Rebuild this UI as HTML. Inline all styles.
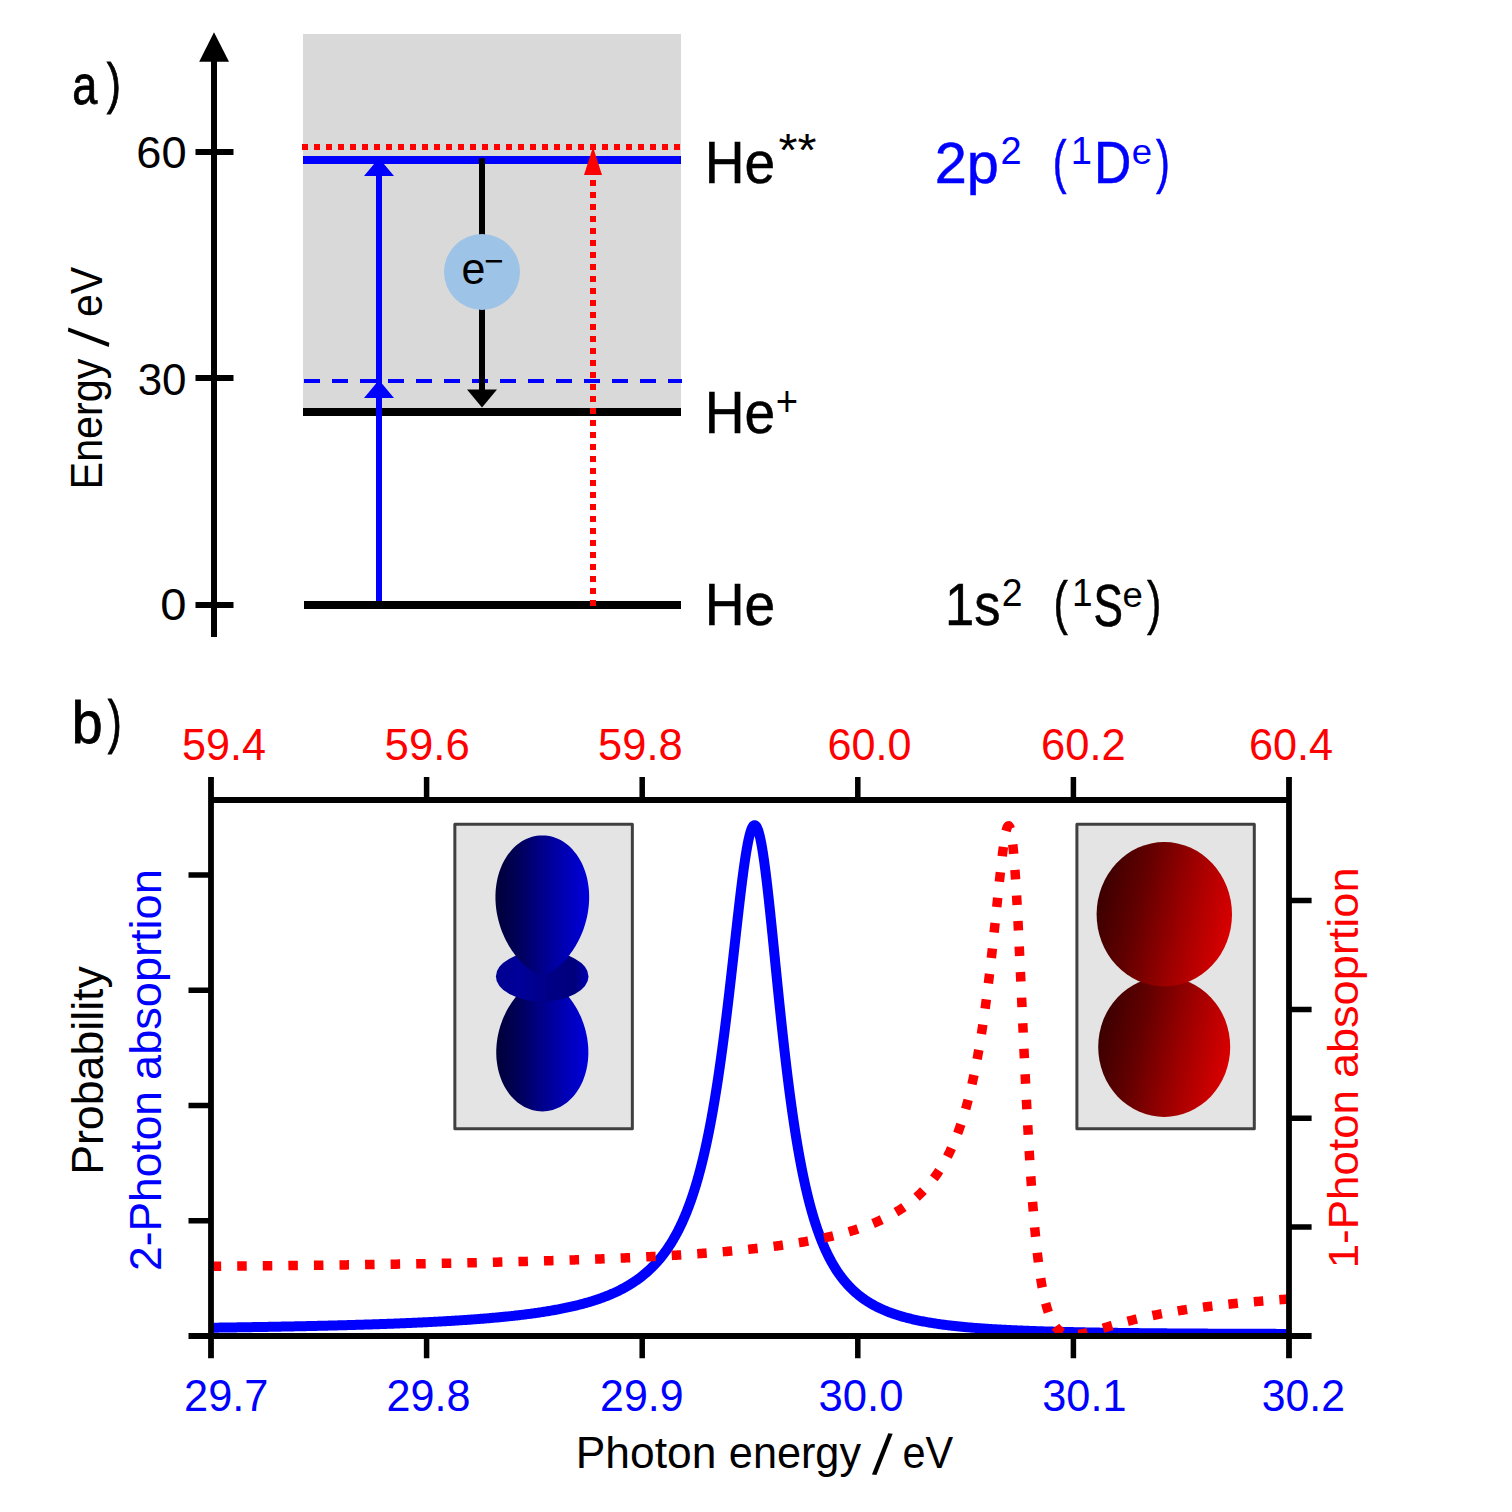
<!DOCTYPE html>
<html lang="en"><head><meta charset="utf-8"><title>He two-photon excitation scheme</title>
<style>html,body{margin:0;padding:0;background:#fff}svg{display:block}</style></head>
<body>
<svg width="1512" height="1512" viewBox="0 0 1512 1512" font-family="'Liberation Sans', 'DejaVu Sans', sans-serif">
<defs>
<linearGradient id="gb" x1="0" y1="0" x2="1" y2="0"><stop offset="0" stop-color="#000038"/><stop offset="0.25" stop-color="#00005a"/><stop offset="0.5" stop-color="#00008a"/><stop offset="0.75" stop-color="#0000b6"/><stop offset="1" stop-color="#0000dc"/></linearGradient>
<linearGradient id="gt" x1="0" y1="0" x2="1" y2="0"><stop offset="0" stop-color="#000090"/><stop offset="0.25" stop-color="#00009a"/><stop offset="0.6" stop-color="#000084"/><stop offset="0.85" stop-color="#00007c"/><stop offset="1" stop-color="#0000b4"/></linearGradient>
<linearGradient id="gr" x1="0" y1="0.38" x2="1" y2="0.62"><stop offset="0" stop-color="#3a0000"/><stop offset="0.3" stop-color="#620000"/><stop offset="0.6" stop-color="#980000"/><stop offset="1" stop-color="#dc0000"/></linearGradient>
<clipPath id="plot"><rect x="211" y="800" width="1078" height="536"/></clipPath>
</defs>
<rect width="1512" height="1512" fill="#ffffff"/>
<rect x="303" y="34" width="378" height="378" fill="#d9d9d9"/>
<g stroke="#000" stroke-width="6" fill="none">
<path d="M214,58 V637"/><path d="M195.5,152 H233.5 M195.5,378 H233.5 M195.5,605 H233.5"/>
</g>
<path d="M214,32.3 L199.2,61.7 H229 Z" fill="#000"/>
<path d="M304,605 H681 M303,412 H681" stroke="#000" stroke-width="8" fill="none"/>
<path d="M303,160 H681" stroke="#0000ff" stroke-width="8" fill="none"/>
<path d="M302,147 H681" stroke="#ff0000" stroke-width="6" stroke-dasharray="6 6" fill="none"/>
<path d="M593,180 V606" stroke="#ff0000" stroke-width="6" stroke-dasharray="6 6" fill="none"/>
<path d="M593,147 L584,175 H602 Z" fill="#ff0000"/>
<path d="M304,381 H682" stroke="#0000ff" stroke-width="4" stroke-dasharray="16 12" fill="none"/>
<path d="M482,158.3 V392" stroke="#000" stroke-width="6" fill="none"/>
<path d="M467,389.5 H497 L482,407.5 Z" fill="#000"/>
<path d="M379,601 V170" stroke="#0000ff" stroke-width="6" fill="none"/>
<path d="M379,158 L364,176 H394 Z M379,380 L364,398 H394 Z" fill="#0000ff"/>
<circle cx="482" cy="272" r="38" fill="#9dc3e6"/>
<g clip-path="url(#plot)" fill="none" stroke-linejoin="round">
<path d="M211.00,1327.73 L212.20,1327.71 L213.40,1327.70 L214.60,1327.68 L215.80,1327.67 L217.00,1327.65 L218.20,1327.63 L219.40,1327.62 L220.60,1327.60 L221.80,1327.58 L223.00,1327.57 L224.20,1327.55 L225.40,1327.53 L226.60,1327.52 L227.80,1327.50 L229.00,1327.48 L230.20,1327.47 L231.40,1327.45 L232.60,1327.43 L233.80,1327.41 L235.00,1327.40 L236.20,1327.38 L237.40,1327.36 L238.60,1327.34 L239.80,1327.32 L241.00,1327.31 L242.20,1327.29 L243.40,1327.27 L244.60,1327.25 L245.80,1327.23 L247.00,1327.21 L248.20,1327.19 L249.40,1327.17 L250.60,1327.16 L251.80,1327.14 L253.00,1327.12 L254.20,1327.10 L255.40,1327.08 L256.60,1327.06 L257.79,1327.04 L258.99,1327.02 L260.19,1327.00 L261.39,1326.98 L262.59,1326.96 L263.79,1326.94 L264.99,1326.92 L266.19,1326.90 L267.39,1326.88 L268.59,1326.85 L269.79,1326.83 L270.99,1326.81 L272.19,1326.79 L273.39,1326.77 L274.59,1326.75 L275.79,1326.73 L276.99,1326.70 L278.19,1326.68 L279.39,1326.66 L280.59,1326.64 L281.79,1326.61 L282.99,1326.59 L284.19,1326.57 L285.39,1326.55 L286.59,1326.52 L287.79,1326.50 L288.99,1326.48 L290.19,1326.45 L291.39,1326.43 L292.59,1326.40 L293.79,1326.38 L294.99,1326.36 L296.19,1326.33 L297.39,1326.31 L298.59,1326.28 L299.79,1326.26 L300.99,1326.23 L302.19,1326.21 L303.39,1326.18 L304.59,1326.16 L305.79,1326.13 L306.99,1326.11 L308.19,1326.08 L309.39,1326.05 L310.59,1326.03 L311.78,1326.00 L312.98,1325.97 L314.18,1325.95 L315.38,1325.92 L316.58,1325.89 L317.78,1325.86 L318.98,1325.84 L320.18,1325.81 L321.38,1325.78 L322.58,1325.75 L323.78,1325.72 L324.98,1325.69 L326.18,1325.66 L327.38,1325.64 L328.58,1325.61 L329.78,1325.58 L330.98,1325.55 L332.18,1325.52 L333.38,1325.49 L334.58,1325.46 L335.78,1325.42 L336.98,1325.39 L338.18,1325.36 L339.38,1325.33 L340.58,1325.30 L341.78,1325.27 L342.98,1325.24 L344.18,1325.20 L345.37,1325.17 L346.57,1325.14 L347.77,1325.10 L348.97,1325.07 L350.17,1325.04 L351.37,1325.00 L352.57,1324.97 L353.77,1324.93 L354.97,1324.90 L356.17,1324.86 L357.37,1324.83 L358.57,1324.79 L359.77,1324.76 L360.97,1324.72 L362.17,1324.69 L363.37,1324.65 L364.57,1324.61 L365.77,1324.57 L366.97,1324.54 L368.16,1324.50 L369.36,1324.46 L370.56,1324.42 L371.76,1324.38 L372.96,1324.34 L374.16,1324.30 L375.36,1324.26 L376.56,1324.22 L377.76,1324.18 L378.96,1324.14 L380.16,1324.10 L381.36,1324.06 L382.56,1324.02 L383.76,1323.98 L384.96,1323.93 L386.15,1323.89 L387.35,1323.85 L388.55,1323.80 L389.75,1323.76 L390.95,1323.72 L392.15,1323.67 L393.35,1323.63 L394.55,1323.58 L395.75,1323.53 L396.95,1323.49 L398.15,1323.44 L399.35,1323.39 L400.54,1323.35 L401.74,1323.30 L402.94,1323.25 L404.14,1323.20 L405.34,1323.15 L406.54,1323.10 L407.74,1323.05 L408.94,1323.00 L410.14,1322.95 L411.34,1322.90 L412.53,1322.85 L413.73,1322.79 L414.93,1322.74 L416.13,1322.69 L417.33,1322.63 L418.53,1322.58 L419.73,1322.52 L420.93,1322.47 L422.12,1322.41 L423.32,1322.35 L424.52,1322.30 L425.72,1322.24 L426.92,1322.18 L428.12,1322.12 L429.32,1322.06 L430.51,1322.00 L431.71,1321.94 L432.91,1321.88 L434.11,1321.82 L435.31,1321.76 L436.51,1321.69 L437.70,1321.63 L438.90,1321.57 L440.10,1321.50 L441.30,1321.44 L442.50,1321.37 L443.70,1321.30 L444.89,1321.24 L446.09,1321.17 L447.29,1321.10 L448.49,1321.03 L449.69,1320.96 L450.88,1320.89 L452.08,1320.82 L453.28,1320.74 L454.48,1320.67 L455.68,1320.60 L456.87,1320.52 L458.07,1320.45 L459.27,1320.37 L460.47,1320.29 L461.66,1320.21 L462.86,1320.13 L464.06,1320.05 L465.26,1319.97 L466.45,1319.89 L467.65,1319.81 L468.85,1319.73 L470.04,1319.64 L471.24,1319.56 L472.44,1319.47 L473.63,1319.38 L474.83,1319.30 L476.03,1319.21 L477.23,1319.12 L478.42,1319.02 L479.62,1318.93 L480.81,1318.84 L482.01,1318.74 L483.21,1318.65 L484.40,1318.55 L485.60,1318.46 L486.80,1318.36 L487.99,1318.26 L489.19,1318.16 L490.38,1318.05 L491.58,1317.95 L492.77,1317.84 L493.97,1317.74 L495.16,1317.63 L496.36,1317.52 L497.55,1317.41 L498.75,1317.30 L499.94,1317.19 L501.14,1317.07 L502.33,1316.96 L503.53,1316.84 L504.72,1316.72 L505.92,1316.60 L507.11,1316.48 L508.30,1316.36 L509.50,1316.23 L510.69,1316.11 L511.88,1315.98 L513.08,1315.85 L514.27,1315.72 L515.46,1315.59 L516.66,1315.45 L517.85,1315.32 L519.04,1315.18 L520.23,1315.04 L521.42,1314.90 L522.61,1314.75 L523.81,1314.61 L525.00,1314.46 L526.19,1314.31 L527.38,1314.16 L528.57,1314.00 L529.76,1313.85 L530.95,1313.69 L532.14,1313.53 L533.33,1313.37 L534.52,1313.20 L535.70,1313.03 L536.89,1312.86 L538.08,1312.69 L539.27,1312.52 L540.45,1312.34 L541.64,1312.16 L542.83,1311.98 L544.01,1311.80 L545.20,1311.61 L546.38,1311.42 L547.57,1311.23 L548.75,1311.03 L549.94,1310.83 L551.12,1310.63 L552.30,1310.42 L553.48,1310.22 L554.67,1310.01 L555.85,1309.79 L557.03,1309.57 L558.21,1309.35 L559.39,1309.13 L560.56,1308.90 L561.74,1308.67 L562.92,1308.44 L564.10,1308.20 L565.27,1307.95 L566.45,1307.71 L567.62,1307.46 L568.79,1307.20 L569.97,1306.95 L571.14,1306.68 L572.31,1306.42 L573.48,1306.15 L574.65,1305.87 L575.81,1305.59 L576.98,1305.31 L578.15,1305.02 L579.31,1304.73 L580.47,1304.43 L581.64,1304.13 L582.80,1303.82 L583.96,1303.50 L585.11,1303.19 L586.27,1302.86 L587.42,1302.53 L588.58,1302.20 L589.73,1301.86 L590.88,1301.51 L592.03,1301.16 L593.17,1300.80 L594.32,1300.44 L595.46,1300.07 L596.60,1299.69 L597.74,1299.31 L598.88,1298.92 L600.01,1298.52 L601.14,1298.12 L602.27,1297.71 L603.40,1297.29 L604.52,1296.87 L605.64,1296.43 L606.76,1296.00 L607.88,1295.55 L608.99,1295.10 L610.10,1294.63 L611.20,1294.16 L612.31,1293.69 L613.41,1293.20 L614.50,1292.71 L615.60,1292.21 L616.68,1291.70 L617.77,1291.18 L618.85,1290.65 L619.93,1290.11 L621.00,1289.57 L622.06,1289.01 L623.13,1288.45 L624.19,1287.88 L625.24,1287.30 L626.29,1286.71 L627.33,1286.11 L628.37,1285.50 L629.40,1284.88 L630.43,1284.25 L631.45,1283.61 L632.46,1282.97 L633.47,1282.31 L634.47,1281.64 L635.47,1280.97 L636.46,1280.28 L637.44,1279.58 L638.42,1278.88 L639.39,1278.16 L640.35,1277.44 L641.30,1276.70 L642.25,1275.96 L643.19,1275.21 L644.12,1274.44 L645.05,1273.67 L645.96,1272.89 L646.87,1272.10 L647.77,1271.29 L648.66,1270.48 L649.55,1269.67 L650.43,1268.84 L651.29,1268.00 L652.15,1267.15 L653.00,1266.30 L653.85,1265.44 L654.68,1264.56 L655.50,1263.68 L656.32,1262.80 L657.13,1261.90 L657.93,1260.99 L658.72,1260.08 L659.50,1259.16 L660.27,1258.24 L661.04,1257.30 L661.79,1256.36 L662.54,1255.41 L663.27,1254.46 L664.00,1253.49 L664.72,1252.53 L665.44,1251.55 L666.14,1250.57 L666.84,1249.58 L667.52,1248.59 L668.20,1247.59 L668.87,1246.59 L669.53,1245.58 L670.19,1244.56 L670.83,1243.54 L671.47,1242.52 L672.10,1241.49 L672.72,1240.45 L673.34,1239.41 L673.94,1238.37 L674.54,1237.32 L675.14,1236.27 L675.72,1235.21 L676.30,1234.15 L676.87,1233.09 L677.43,1232.02 L677.99,1230.95 L678.54,1229.87 L679.08,1228.79 L679.61,1227.71 L680.14,1226.63 L680.67,1225.54 L681.18,1224.45 L681.69,1223.35 L682.20,1222.26 L682.70,1221.16 L683.19,1220.05 L683.67,1218.95 L684.15,1217.84 L684.63,1216.73 L685.10,1215.62 L685.56,1214.50 L686.02,1213.39 L686.47,1212.27 L686.92,1211.15 L687.36,1210.02 L687.80,1208.90 L688.23,1207.77 L688.66,1206.64 L689.08,1205.51 L689.50,1204.38 L689.91,1203.25 L690.32,1202.11 L690.73,1200.98 L691.13,1199.84 L691.52,1198.70 L691.91,1197.56 L692.30,1196.41 L692.68,1195.27 L693.06,1194.13 L693.44,1192.98 L693.81,1191.83 L694.18,1190.68 L694.54,1189.53 L694.90,1188.38 L695.26,1187.23 L695.61,1186.07 L695.96,1184.92 L696.30,1183.76 L696.64,1182.61 L696.98,1181.45 L697.32,1180.29 L697.65,1179.13 L697.98,1177.97 L698.30,1176.81 L698.63,1175.65 L698.95,1174.49 L699.26,1173.32 L699.58,1172.16 L699.89,1171.00 L700.20,1169.83 L700.50,1168.66 L700.80,1167.50 L701.10,1166.33 L701.40,1165.16 L701.69,1163.99 L701.98,1162.82 L702.27,1161.65 L702.56,1160.48 L702.84,1159.31 L703.13,1158.14 L703.41,1156.97 L703.68,1155.79 L703.96,1154.62 L704.23,1153.45 L704.50,1152.27 L704.77,1151.10 L705.03,1149.92 L705.30,1148.75 L705.56,1147.57 L705.82,1146.39 L706.08,1145.22 L706.33,1144.04 L706.59,1142.86 L706.84,1141.69 L707.09,1140.51 L707.33,1139.33 L707.58,1138.15 L707.82,1136.97 L708.07,1135.79 L708.31,1134.61 L708.55,1133.43 L708.78,1132.25 L709.02,1131.07 L709.25,1129.89 L709.48,1128.70 L709.71,1127.52 L709.94,1126.34 L710.17,1125.16 L710.40,1123.97 L710.62,1122.79 L710.84,1121.61 L711.06,1120.42 L711.28,1119.24 L711.50,1118.06 L711.72,1116.87 L711.93,1115.69 L712.15,1114.50 L712.36,1113.32 L712.57,1112.13 L712.78,1110.95 L712.99,1109.76 L713.20,1108.58 L713.40,1107.39 L713.61,1106.20 L713.81,1105.02 L714.01,1103.83 L714.21,1102.65 L714.41,1101.46 L714.61,1100.27 L714.81,1099.08 L715.01,1097.90 L715.20,1096.71 L715.40,1095.52 L715.59,1094.33 L715.78,1093.15 L715.97,1091.96 L716.16,1090.77 L716.35,1089.58 L716.54,1088.39 L716.73,1087.20 L716.91,1086.02 L717.10,1084.83 L717.28,1083.64 L717.46,1082.45 L717.64,1081.26 L717.83,1080.07 L718.01,1078.88 L718.19,1077.69 L718.36,1076.50 L718.54,1075.31 L718.72,1074.12 L718.89,1072.93 L719.07,1071.74 L719.24,1070.55 L719.42,1069.36 L719.59,1068.17 L719.76,1066.98 L719.93,1065.79 L720.10,1064.60 L720.27,1063.41 L720.44,1062.22 L720.61,1061.03 L720.77,1059.84 L720.94,1058.64 L721.11,1057.45 L721.27,1056.26 L721.43,1055.07 L721.60,1053.88 L721.76,1052.69 L721.92,1051.50 L722.08,1050.31 L722.25,1049.11 L722.41,1047.92 L722.57,1046.73 L722.72,1045.54 L722.88,1044.35 L723.04,1043.16 L723.20,1041.96 L723.35,1040.77 L723.51,1039.58 L723.67,1038.39 L723.82,1037.19 L723.97,1036.00 L724.13,1034.81 L724.28,1033.62 L724.43,1032.43 L724.59,1031.23 L724.74,1030.04 L724.89,1028.85 L725.04,1027.66 L725.19,1026.46 L725.34,1025.27 L725.49,1024.08 L725.64,1022.89 L725.79,1021.69 L725.93,1020.50 L726.08,1019.31 L726.23,1018.12 L726.38,1016.92 L726.52,1015.73 L726.67,1014.54 L726.81,1013.34 L726.96,1012.15 L727.10,1010.96 L727.25,1009.77 L727.39,1008.57 L727.53,1007.38 L727.68,1006.19 L727.82,1004.99 L727.96,1003.80 L728.10,1002.61 L728.24,1001.41 L728.39,1000.22 L728.53,999.03 L728.67,997.84 L728.81,996.64 L728.95,995.45 L729.09,994.26 L729.23,993.06 L729.37,991.87 L729.50,990.68 L729.64,989.48 L729.78,988.29 L729.92,987.10 L730.06,985.90 L730.19,984.71 L730.33,983.52 L730.47,982.32 L730.61,981.13 L730.74,979.94 L730.88,978.74 L731.02,977.55 L731.15,976.36 L731.29,975.17 L731.42,973.97 L731.56,972.78 L731.69,971.59 L731.83,970.39 L731.96,969.20 L732.10,968.01 L732.23,966.81 L732.37,965.62 L732.50,964.43 L732.64,963.23 L732.77,962.04 L732.90,960.85 L733.04,959.66 L733.17,958.46 L733.30,957.27 L733.44,956.08 L733.57,954.88 L733.71,953.69 L733.84,952.50 L733.97,951.31 L734.11,950.11 L734.24,948.92 L734.37,947.73 L734.51,946.54 L734.64,945.34 L734.77,944.15 L734.91,942.96 L735.04,941.76 L735.17,940.57 L735.31,939.38 L735.44,938.19 L735.57,937.00 L735.71,935.80 L735.84,934.61 L735.97,933.42 L736.11,932.23 L736.24,931.03 L736.37,929.84 L736.51,928.65 L736.64,927.46 L736.78,926.27 L736.91,925.08 L737.04,923.88 L737.18,922.69 L737.31,921.50 L737.45,920.31 L737.58,919.12 L737.72,917.93 L737.86,916.73 L737.99,915.54 L738.13,914.35 L738.26,913.16 L738.40,911.97 L738.54,910.78 L738.68,909.59 L738.81,908.40 L738.95,907.21 L739.09,906.02 L739.23,904.83 L739.37,903.64 L739.51,902.45 L739.65,901.26 L739.79,900.07 L739.93,898.88 L740.07,897.69 L740.21,896.50 L740.36,895.31 L740.50,894.12 L740.64,892.93 L740.79,891.74 L740.93,890.56 L741.08,889.37 L741.22,888.18 L741.37,886.99 L741.52,885.80 L741.67,884.62 L741.82,883.43 L741.97,882.24 L742.12,881.05 L742.27,879.87 L742.42,878.68 L742.58,877.50 L742.73,876.31 L742.89,875.12 L743.04,873.94 L743.20,872.75 L743.36,871.57 L743.52,870.39 L743.68,869.20 L743.85,868.02 L744.01,866.84 L744.18,865.65 L744.35,864.47 L744.52,863.29 L744.69,862.11 L744.86,860.93 L745.04,859.75 L745.22,858.57 L745.40,857.39 L745.58,856.22 L745.77,855.04 L745.96,853.86 L746.15,852.69 L746.34,851.51 L746.54,850.34 L746.74,849.17 L746.95,848.00 L747.16,846.83 L747.37,845.66 L747.59,844.50 L747.81,843.33 L748.04,842.17 L748.28,841.02 L748.52,839.86 L748.77,838.71 L749.03,837.56 L749.31,836.41 L749.59,835.28 L749.88,834.14 L750.19,833.02 L750.52,831.91 L750.88,830.81 L751.26,829.72 L751.67,828.66 L752.14,827.64 L752.67,826.68 L753.31,825.83 L754.13,825.23 L755.24,825.30 L756.30,826.33 L756.99,827.51 L757.53,828.70 L757.99,829.89 L758.39,831.09 L758.76,832.29 L759.09,833.48 L759.41,834.68 L759.70,835.88 L759.98,837.07 L760.25,838.27 L760.51,839.47 L760.76,840.66 L760.99,841.86 L761.22,843.06 L761.45,844.25 L761.66,845.45 L761.88,846.65 L762.08,847.84 L762.28,849.04 L762.48,850.24 L762.67,851.43 L762.86,852.63 L763.05,853.82 L763.23,855.02 L763.41,856.22 L763.59,857.41 L763.76,858.61 L763.94,859.81 L764.11,861.00 L764.27,862.20 L764.44,863.39 L764.60,864.59 L764.76,865.79 L764.92,866.98 L765.08,868.18 L765.23,869.37 L765.39,870.57 L765.54,871.77 L765.69,872.96 L765.84,874.16 L765.99,875.35 L766.14,876.55 L766.28,877.75 L766.43,878.94 L766.57,880.14 L766.72,881.33 L766.86,882.53 L767.00,883.72 L767.14,884.92 L767.28,886.12 L767.42,887.31 L767.55,888.51 L767.69,889.70 L767.83,890.90 L767.96,892.09 L768.10,893.29 L768.23,894.48 L768.36,895.68 L768.49,896.88 L768.63,898.07 L768.76,899.27 L768.89,900.46 L769.02,901.66 L769.15,902.85 L769.28,904.05 L769.41,905.24 L769.53,906.44 L769.66,907.63 L769.79,908.83 L769.92,910.02 L770.04,911.22 L770.17,912.41 L770.29,913.61 L770.42,914.81 L770.54,916.00 L770.67,917.20 L770.79,918.39 L770.92,919.59 L771.04,920.78 L771.16,921.98 L771.29,923.17 L771.41,924.37 L771.53,925.56 L771.66,926.75 L771.78,927.95 L771.90,929.14 L772.02,930.34 L772.14,931.53 L772.26,932.73 L772.39,933.92 L772.51,935.12 L772.63,936.31 L772.75,937.51 L772.87,938.70 L772.99,939.90 L773.11,941.09 L773.23,942.29 L773.35,943.48 L773.47,944.67 L773.59,945.87 L773.71,947.06 L773.83,948.26 L773.95,949.45 L774.07,950.65 L774.19,951.84 L774.31,953.03 L774.43,954.23 L774.55,955.42 L774.67,956.62 L774.79,957.81 L774.91,959.01 L775.02,960.20 L775.14,961.39 L775.26,962.59 L775.38,963.78 L775.50,964.98 L775.62,966.17 L775.74,967.36 L775.86,968.56 L775.98,969.75 L776.10,970.94 L776.22,972.14 L776.34,973.33 L776.46,974.53 L776.58,975.72 L776.70,976.91 L776.82,978.11 L776.94,979.30 L777.06,980.49 L777.18,981.69 L777.30,982.88 L777.42,984.07 L777.54,985.27 L777.66,986.46 L777.78,987.65 L777.91,988.85 L778.03,990.04 L778.15,991.23 L778.27,992.43 L778.39,993.62 L778.51,994.81 L778.63,996.00 L778.76,997.20 L778.88,998.39 L779.00,999.58 L779.12,1000.78 L779.25,1001.97 L779.37,1003.16 L779.49,1004.35 L779.62,1005.55 L779.74,1006.74 L779.87,1007.93 L779.99,1009.12 L780.11,1010.32 L780.24,1011.51 L780.36,1012.70 L780.49,1013.89 L780.61,1015.09 L780.74,1016.28 L780.87,1017.47 L780.99,1018.66 L781.12,1019.85 L781.25,1021.05 L781.37,1022.24 L781.50,1023.43 L781.63,1024.62 L781.76,1025.81 L781.88,1027.00 L782.01,1028.20 L782.14,1029.39 L782.27,1030.58 L782.40,1031.77 L782.53,1032.96 L782.66,1034.15 L782.79,1035.34 L782.92,1036.54 L783.05,1037.73 L783.19,1038.92 L783.32,1040.11 L783.45,1041.30 L783.58,1042.49 L783.72,1043.68 L783.85,1044.87 L783.98,1046.06 L784.12,1047.25 L784.25,1048.44 L784.39,1049.63 L784.52,1050.82 L784.66,1052.01 L784.80,1053.20 L784.93,1054.39 L785.07,1055.58 L785.21,1056.77 L785.35,1057.96 L785.49,1059.15 L785.63,1060.34 L785.77,1061.53 L785.91,1062.72 L786.05,1063.91 L786.19,1065.10 L786.33,1066.29 L786.47,1067.48 L786.62,1068.67 L786.76,1069.86 L786.90,1071.05 L787.05,1072.24 L787.19,1073.43 L787.34,1074.61 L787.49,1075.80 L787.63,1076.99 L787.78,1078.18 L787.93,1079.37 L788.08,1080.56 L788.23,1081.74 L788.38,1082.93 L788.53,1084.12 L788.68,1085.31 L788.83,1086.50 L788.98,1087.68 L789.14,1088.87 L789.29,1090.06 L789.45,1091.25 L789.60,1092.43 L789.76,1093.62 L789.91,1094.81 L790.07,1095.99 L790.23,1097.18 L790.39,1098.37 L790.55,1099.55 L790.71,1100.74 L790.87,1101.93 L791.03,1103.11 L791.20,1104.30 L791.36,1105.48 L791.53,1106.67 L791.69,1107.85 L791.86,1109.04 L792.02,1110.22 L792.19,1111.41 L792.36,1112.59 L792.53,1113.78 L792.70,1114.96 L792.87,1116.15 L793.05,1117.33 L793.22,1118.52 L793.40,1119.70 L793.57,1120.88 L793.75,1122.07 L793.93,1123.25 L794.10,1124.43 L794.28,1125.62 L794.46,1126.80 L794.65,1127.98 L794.83,1129.16 L795.01,1130.35 L795.20,1131.53 L795.39,1132.71 L795.57,1133.89 L795.76,1135.07 L795.95,1136.25 L796.14,1137.43 L796.33,1138.61 L796.53,1139.79 L796.72,1140.97 L796.92,1142.15 L797.12,1143.33 L797.31,1144.51 L797.51,1145.69 L797.72,1146.87 L797.92,1148.05 L798.12,1149.23 L798.33,1150.41 L798.54,1151.58 L798.74,1152.76 L798.95,1153.94 L799.17,1155.12 L799.38,1156.29 L799.59,1157.47 L799.81,1158.64 L800.03,1159.82 L800.25,1161.00 L800.47,1162.17 L800.69,1163.34 L800.91,1164.52 L801.14,1165.69 L801.37,1166.87 L801.60,1168.04 L801.83,1169.21 L802.06,1170.38 L802.30,1171.56 L802.53,1172.73 L802.77,1173.90 L803.01,1175.07 L803.26,1176.24 L803.50,1177.41 L803.75,1178.58 L804.00,1179.75 L804.25,1180.91 L804.50,1182.08 L804.76,1183.25 L805.02,1184.42 L805.28,1185.58 L805.54,1186.75 L805.80,1187.91 L806.07,1189.08 L806.34,1190.24 L806.61,1191.40 L806.89,1192.57 L807.16,1193.73 L807.44,1194.89 L807.73,1196.05 L808.01,1197.21 L808.30,1198.37 L808.59,1199.52 L808.88,1200.68 L809.18,1201.84 L809.48,1202.99 L809.78,1204.15 L810.09,1205.30 L810.40,1206.46 L810.71,1207.61 L811.03,1208.76 L811.35,1209.91 L811.67,1211.06 L811.99,1212.21 L812.32,1213.36 L812.65,1214.50 L812.99,1215.65 L813.33,1216.79 L813.68,1217.93 L814.02,1219.07 L814.37,1220.21 L814.73,1221.35 L815.09,1222.49 L815.45,1223.63 L815.82,1224.76 L816.20,1225.90 L816.57,1227.03 L816.95,1228.16 L817.34,1229.29 L817.73,1230.41 L818.13,1231.54 L818.53,1232.66 L818.93,1233.78 L819.34,1234.90 L819.76,1236.02 L820.18,1237.13 L820.61,1238.25 L821.04,1239.36 L821.48,1240.47 L821.92,1241.58 L822.37,1242.68 L822.82,1243.78 L823.29,1244.88 L823.75,1245.98 L824.23,1247.07 L824.71,1248.16 L825.19,1249.25 L825.69,1250.33 L826.19,1251.42 L826.69,1252.49 L827.21,1253.57 L827.73,1254.64 L828.26,1255.71 L828.79,1256.77 L829.34,1257.83 L829.89,1258.89 L830.45,1259.94 L831.02,1260.99 L831.59,1262.03 L832.18,1263.07 L832.77,1264.11 L833.37,1265.13 L833.98,1266.16 L834.60,1267.18 L835.22,1268.19 L835.86,1269.20 L836.50,1270.20 L837.16,1271.19 L837.82,1272.18 L838.50,1273.17 L839.18,1274.14 L839.87,1275.11 L840.58,1276.07 L841.29,1277.03 L842.01,1277.98 L842.74,1278.92 L843.49,1279.85 L844.24,1280.77 L845.00,1281.69 L845.77,1282.60 L846.56,1283.50 L847.35,1284.38 L848.16,1285.26 L848.97,1286.14 L849.80,1287.00 L850.63,1287.85 L851.48,1288.69 L852.33,1289.52 L853.20,1290.34 L854.07,1291.15 L854.96,1291.95 L855.85,1292.74 L856.76,1293.52 L857.67,1294.29 L858.60,1295.05 L859.53,1295.79 L860.47,1296.52 L861.42,1297.25 L862.38,1297.96 L863.35,1298.66 L864.33,1299.34 L865.32,1300.02 L866.31,1300.68 L867.31,1301.33 L868.32,1301.97 L869.34,1302.60 L870.36,1303.22 L871.39,1303.83 L872.43,1304.42 L873.48,1305.00 L874.53,1305.58 L875.58,1306.14 L876.65,1306.68 L877.72,1307.22 L878.79,1307.75 L879.87,1308.27 L880.96,1308.77 L882.05,1309.27 L883.14,1309.75 L884.24,1310.23 L885.35,1310.69 L886.45,1311.15 L887.57,1311.59 L888.68,1312.03 L889.80,1312.45 L890.92,1312.87 L892.05,1313.28 L893.18,1313.68 L894.31,1314.07 L895.45,1314.45 L896.59,1314.82 L897.73,1315.19 L898.88,1315.54 L900.02,1315.89 L901.17,1316.24 L902.32,1316.57 L903.48,1316.90 L904.63,1317.22 L905.79,1317.53 L906.95,1317.83 L908.11,1318.13 L909.27,1318.43 L910.44,1318.71 L911.60,1318.99 L912.77,1319.27 L913.94,1319.53 L915.11,1319.80 L916.28,1320.05 L917.45,1320.30 L918.63,1320.55 L919.80,1320.79 L920.98,1321.03 L922.16,1321.26 L923.34,1321.48 L924.51,1321.70 L925.69,1321.92 L926.88,1322.13 L928.06,1322.34 L929.24,1322.54 L930.42,1322.74 L931.61,1322.93 L932.79,1323.12 L933.98,1323.31 L935.16,1323.49 L936.35,1323.67 L937.53,1323.85 L938.72,1324.02 L939.91,1324.19 L941.10,1324.35 L942.29,1324.51 L943.48,1324.67 L944.67,1324.83 L945.86,1324.98 L947.05,1325.13 L948.24,1325.27 L949.43,1325.42 L950.62,1325.56 L951.81,1325.69 L953.00,1325.83 L954.20,1325.96 L955.39,1326.09 L956.58,1326.22 L957.78,1326.34 L958.97,1326.47 L960.16,1326.59 L961.36,1326.70 L962.55,1326.82 L963.75,1326.93 L964.94,1327.05 L966.14,1327.16 L967.33,1327.26 L968.53,1327.37 L969.72,1327.47 L970.92,1327.57 L972.11,1327.67 L973.31,1327.77 L974.51,1327.87 L975.70,1327.96 L976.90,1328.05 L978.09,1328.15 L979.29,1328.23 L980.49,1328.32 L981.68,1328.41 L982.88,1328.49 L984.08,1328.58 L985.28,1328.66 L986.47,1328.74 L987.67,1328.82 L988.87,1328.90 L990.07,1328.97 L991.26,1329.05 L992.46,1329.12 L993.66,1329.19 L994.86,1329.27 L996.05,1329.34 L997.25,1329.40 L998.45,1329.47 L999.65,1329.54 L1000.85,1329.60 L1002.04,1329.67 L1003.24,1329.73 L1004.44,1329.79 L1005.64,1329.86 L1006.84,1329.92 L1008.04,1329.97 L1009.24,1330.03 L1010.43,1330.09 L1011.63,1330.15 L1012.83,1330.20 L1014.03,1330.26 L1015.23,1330.31 L1016.43,1330.36 L1017.63,1330.42 L1018.83,1330.47 L1020.02,1330.52 L1021.22,1330.57 L1022.42,1330.62 L1023.62,1330.66 L1024.82,1330.71 L1026.02,1330.76 L1027.22,1330.80 L1028.42,1330.85 L1029.62,1330.89 L1030.82,1330.94 L1032.02,1330.98 L1033.21,1331.02 L1034.41,1331.06 L1035.61,1331.10 L1036.81,1331.15 L1038.01,1331.19 L1039.21,1331.22 L1040.41,1331.26 L1041.61,1331.30 L1042.81,1331.34 L1044.01,1331.38 L1045.21,1331.41 L1046.41,1331.45 L1047.61,1331.48 L1048.81,1331.52 L1050.01,1331.55 L1051.21,1331.59 L1052.40,1331.62 L1053.60,1331.65 L1054.80,1331.69 L1056.00,1331.72 L1057.20,1331.75 L1058.40,1331.78 L1059.60,1331.81 L1060.80,1331.84 L1062.00,1331.87 L1063.20,1331.90 L1064.40,1331.93 L1065.60,1331.96 L1066.80,1331.98 L1068.00,1332.01 L1069.20,1332.04 L1070.40,1332.07 L1071.60,1332.09 L1072.80,1332.12 L1074.00,1332.14 L1075.20,1332.17 L1076.40,1332.19 L1077.60,1332.22 L1078.80,1332.24 L1080.00,1332.27 L1081.20,1332.29 L1082.40,1332.31 L1083.60,1332.34 L1084.80,1332.36 L1086.00,1332.38 L1087.20,1332.40 L1088.40,1332.43 L1089.60,1332.45 L1090.80,1332.47 L1092.00,1332.49 L1093.19,1332.51 L1094.39,1332.53 L1095.59,1332.55 L1096.79,1332.57 L1097.99,1332.59 L1099.19,1332.61 L1100.39,1332.63 L1101.59,1332.65 L1102.79,1332.67 L1103.99,1332.68 L1105.19,1332.70 L1106.39,1332.72 L1107.59,1332.74 L1108.79,1332.75 L1109.99,1332.77 L1111.19,1332.79 L1112.39,1332.80 L1113.59,1332.82 L1114.79,1332.84 L1115.99,1332.85 L1117.19,1332.87 L1118.39,1332.88 L1119.59,1332.90 L1120.79,1332.91 L1121.99,1332.93 L1123.19,1332.94 L1124.39,1332.96 L1125.59,1332.97 L1126.79,1332.99 L1127.99,1333.00 L1129.19,1333.02 L1130.39,1333.03 L1131.59,1333.04 L1132.79,1333.06 L1133.99,1333.07 L1135.19,1333.08 L1136.39,1333.09 L1137.59,1333.11 L1138.79,1333.12 L1139.99,1333.13 L1141.19,1333.14 L1142.39,1333.16 L1143.59,1333.17 L1144.79,1333.18 L1145.99,1333.19 L1147.19,1333.20 L1148.39,1333.21 L1149.59,1333.23 L1150.79,1333.24 L1151.99,1333.25 L1153.19,1333.26 L1154.39,1333.27 L1155.59,1333.28 L1156.79,1333.29 L1157.99,1333.30 L1159.19,1333.31 L1160.39,1333.32 L1161.59,1333.33 L1162.79,1333.34 L1163.99,1333.35 L1165.19,1333.36 L1166.39,1333.37 L1167.59,1333.38 L1168.79,1333.39 L1169.99,1333.39 L1171.19,1333.40 L1172.39,1333.41 L1173.59,1333.42 L1174.79,1333.43 L1175.99,1333.44 L1177.19,1333.45 L1178.39,1333.45 L1179.59,1333.46 L1180.79,1333.47 L1181.99,1333.48 L1183.19,1333.49 L1184.39,1333.49 L1185.59,1333.50 L1186.79,1333.51 L1187.99,1333.52 L1189.19,1333.52 L1190.39,1333.53 L1191.59,1333.54 L1192.79,1333.55 L1193.99,1333.55 L1195.19,1333.56 L1196.39,1333.57 L1197.59,1333.57 L1198.79,1333.58 L1199.99,1333.59 L1201.19,1333.59 L1202.39,1333.60 L1203.59,1333.61 L1204.79,1333.61 L1205.99,1333.62 L1207.19,1333.62 L1208.39,1333.63 L1209.59,1333.64 L1210.79,1333.64 L1211.99,1333.65 L1213.19,1333.65 L1214.39,1333.66 L1215.59,1333.67 L1216.79,1333.67 L1217.99,1333.68 L1219.19,1333.68 L1220.39,1333.69 L1221.59,1333.69 L1222.79,1333.70 L1223.99,1333.70 L1225.19,1333.71 L1226.39,1333.71 L1227.59,1333.72 L1228.79,1333.72 L1229.99,1333.73 L1231.19,1333.73 L1232.39,1333.74 L1233.59,1333.74 L1234.79,1333.75 L1235.99,1333.75 L1237.19,1333.76 L1238.39,1333.76 L1239.59,1333.76 L1240.79,1333.77 L1241.99,1333.77 L1243.19,1333.78 L1244.39,1333.78 L1245.59,1333.79 L1246.79,1333.79 L1247.99,1333.79 L1249.19,1333.80 L1250.39,1333.80 L1251.59,1333.81 L1252.79,1333.81 L1253.99,1333.81 L1255.19,1333.82 L1256.39,1333.82 L1257.59,1333.82 L1258.79,1333.83 L1259.99,1333.83 L1261.19,1333.84 L1262.39,1333.84 L1263.59,1333.84 L1264.79,1333.85 L1265.99,1333.85 L1267.19,1333.85 L1268.39,1333.86 L1269.59,1333.86 L1270.79,1333.86 L1271.99,1333.86 L1273.19,1333.87 L1274.39,1333.87 L1275.59,1333.87 L1276.79,1333.88 L1277.99,1333.88 L1279.19,1333.88 L1280.39,1333.89 L1281.59,1333.89 L1282.79,1333.89 L1283.99,1333.89 L1285.19,1333.90 L1286.39,1333.90 L1287.59,1333.90 L1288.79,1333.91 L1289.00,1333.91" stroke="#0000ff" stroke-width="10"/>
<path d="M211.00,1266.32 L212.20,1266.31 L213.40,1266.30 L214.60,1266.29 L215.80,1266.28 L217.00,1266.27 L218.20,1266.26 L219.40,1266.25 L220.60,1266.24 L221.80,1266.23 L223.00,1266.22 L224.20,1266.21 L225.40,1266.20 L226.60,1266.19 L227.80,1266.18 L229.00,1266.17 L230.20,1266.16 L231.40,1266.14 L232.60,1266.13 L233.80,1266.12 L235.00,1266.11 L236.20,1266.10 L237.40,1266.09 L238.60,1266.08 L239.80,1266.07 L241.00,1266.06 L242.20,1266.05 L243.40,1266.03 L244.60,1266.02 L245.80,1266.01 L247.00,1266.00 L248.20,1265.99 L249.40,1265.98 L250.60,1265.97 L251.80,1265.96 L253.00,1265.94 L254.20,1265.93 L255.40,1265.92 L256.60,1265.91 L257.80,1265.90 L259.00,1265.89 L260.20,1265.87 L261.40,1265.86 L262.60,1265.85 L263.80,1265.84 L265.00,1265.83 L266.20,1265.81 L267.40,1265.80 L268.60,1265.79 L269.80,1265.78 L271.00,1265.76 L272.20,1265.75 L273.40,1265.74 L274.60,1265.73 L275.80,1265.71 L277.00,1265.70 L278.20,1265.69 L279.40,1265.68 L280.60,1265.66 L281.80,1265.65 L283.00,1265.64 L284.20,1265.63 L285.40,1265.61 L286.60,1265.60 L287.80,1265.59 L289.00,1265.57 L290.20,1265.56 L291.40,1265.55 L292.60,1265.53 L293.80,1265.52 L295.00,1265.51 L296.20,1265.49 L297.40,1265.48 L298.60,1265.47 L299.80,1265.45 L301.00,1265.44 L302.20,1265.43 L303.40,1265.41 L304.60,1265.40 L305.80,1265.39 L307.00,1265.37 L308.20,1265.36 L309.40,1265.34 L310.60,1265.33 L311.79,1265.32 L312.99,1265.30 L314.19,1265.29 L315.39,1265.27 L316.59,1265.26 L317.79,1265.24 L318.99,1265.23 L320.19,1265.22 L321.39,1265.20 L322.59,1265.19 L323.79,1265.17 L324.99,1265.16 L326.19,1265.14 L327.39,1265.13 L328.59,1265.11 L329.79,1265.10 L330.99,1265.08 L332.19,1265.07 L333.39,1265.05 L334.59,1265.04 L335.79,1265.02 L336.99,1265.00 L338.19,1264.99 L339.39,1264.97 L340.59,1264.96 L341.79,1264.94 L342.99,1264.93 L344.19,1264.91 L345.39,1264.89 L346.59,1264.88 L347.79,1264.86 L348.99,1264.85 L350.19,1264.83 L351.39,1264.81 L352.59,1264.80 L353.79,1264.78 L354.99,1264.76 L356.19,1264.75 L357.39,1264.73 L358.59,1264.72 L359.79,1264.70 L360.99,1264.68 L362.19,1264.66 L363.39,1264.65 L364.59,1264.63 L365.79,1264.61 L366.99,1264.60 L368.19,1264.58 L369.39,1264.56 L370.59,1264.54 L371.79,1264.53 L372.99,1264.51 L374.19,1264.49 L375.39,1264.47 L376.59,1264.46 L377.79,1264.44 L378.99,1264.42 L380.19,1264.40 L381.39,1264.38 L382.59,1264.36 L383.79,1264.35 L384.99,1264.33 L386.19,1264.31 L387.39,1264.29 L388.59,1264.27 L389.79,1264.25 L390.99,1264.23 L392.19,1264.22 L393.39,1264.20 L394.59,1264.18 L395.79,1264.16 L396.99,1264.14 L398.19,1264.12 L399.39,1264.10 L400.59,1264.08 L401.79,1264.06 L402.99,1264.04 L404.19,1264.02 L405.39,1264.00 L406.59,1263.98 L407.79,1263.96 L408.99,1263.94 L410.19,1263.92 L411.38,1263.90 L412.58,1263.88 L413.78,1263.86 L414.98,1263.84 L416.18,1263.82 L417.38,1263.80 L418.58,1263.78 L419.78,1263.76 L420.98,1263.73 L422.18,1263.71 L423.38,1263.69 L424.58,1263.67 L425.78,1263.65 L426.98,1263.63 L428.18,1263.60 L429.38,1263.58 L430.58,1263.56 L431.78,1263.54 L432.98,1263.52 L434.18,1263.49 L435.38,1263.47 L436.58,1263.45 L437.78,1263.43 L438.98,1263.40 L440.18,1263.38 L441.38,1263.36 L442.58,1263.34 L443.78,1263.31 L444.98,1263.29 L446.18,1263.27 L447.38,1263.24 L448.58,1263.22 L449.78,1263.19 L450.98,1263.17 L452.18,1263.15 L453.38,1263.12 L454.58,1263.10 L455.78,1263.07 L456.98,1263.05 L458.18,1263.02 L459.38,1263.00 L460.58,1262.98 L461.78,1262.95 L462.98,1262.93 L464.18,1262.90 L465.38,1262.87 L466.57,1262.85 L467.77,1262.82 L468.97,1262.80 L470.17,1262.77 L471.37,1262.75 L472.57,1262.72 L473.77,1262.69 L474.97,1262.67 L476.17,1262.64 L477.37,1262.61 L478.57,1262.59 L479.77,1262.56 L480.97,1262.53 L482.17,1262.51 L483.37,1262.48 L484.57,1262.45 L485.77,1262.42 L486.97,1262.40 L488.17,1262.37 L489.37,1262.34 L490.57,1262.31 L491.77,1262.28 L492.97,1262.25 L494.17,1262.23 L495.37,1262.20 L496.57,1262.17 L497.77,1262.14 L498.97,1262.11 L500.17,1262.08 L501.37,1262.05 L502.57,1262.02 L503.76,1261.99 L504.96,1261.96 L506.16,1261.93 L507.36,1261.90 L508.56,1261.87 L509.76,1261.84 L510.96,1261.81 L512.16,1261.78 L513.36,1261.75 L514.56,1261.72 L515.76,1261.68 L516.96,1261.65 L518.16,1261.62 L519.36,1261.59 L520.56,1261.56 L521.76,1261.52 L522.96,1261.49 L524.16,1261.46 L525.36,1261.42 L526.56,1261.39 L527.76,1261.36 L528.96,1261.32 L530.16,1261.29 L531.36,1261.26 L532.55,1261.22 L533.75,1261.19 L534.95,1261.15 L536.15,1261.12 L537.35,1261.09 L538.55,1261.05 L539.75,1261.01 L540.95,1260.98 L542.15,1260.94 L543.35,1260.91 L544.55,1260.87 L545.75,1260.84 L546.95,1260.80 L548.15,1260.76 L549.35,1260.73 L550.55,1260.69 L551.75,1260.65 L552.95,1260.61 L554.15,1260.58 L555.34,1260.54 L556.54,1260.50 L557.74,1260.46 L558.94,1260.42 L560.14,1260.38 L561.34,1260.34 L562.54,1260.31 L563.74,1260.27 L564.94,1260.23 L566.14,1260.19 L567.34,1260.15 L568.54,1260.11 L569.74,1260.06 L570.94,1260.02 L572.14,1259.98 L573.33,1259.94 L574.53,1259.90 L575.73,1259.86 L576.93,1259.81 L578.13,1259.77 L579.33,1259.73 L580.53,1259.69 L581.73,1259.64 L582.93,1259.60 L584.13,1259.56 L585.33,1259.51 L586.53,1259.47 L587.73,1259.42 L588.92,1259.38 L590.12,1259.33 L591.32,1259.29 L592.52,1259.24 L593.72,1259.20 L594.92,1259.15 L596.12,1259.10 L597.32,1259.06 L598.52,1259.01 L599.72,1258.96 L600.92,1258.91 L602.11,1258.86 L603.31,1258.82 L604.51,1258.77 L605.71,1258.72 L606.91,1258.67 L608.11,1258.62 L609.31,1258.57 L610.51,1258.52 L611.71,1258.47 L612.91,1258.42 L614.10,1258.37 L615.30,1258.31 L616.50,1258.26 L617.70,1258.21 L618.90,1258.16 L620.10,1258.10 L621.30,1258.05 L622.50,1258.00 L623.70,1257.94 L624.89,1257.89 L626.09,1257.83 L627.29,1257.78 L628.49,1257.72 L629.69,1257.67 L630.89,1257.61 L632.09,1257.55 L633.28,1257.50 L634.48,1257.44 L635.68,1257.38 L636.88,1257.32 L638.08,1257.26 L639.28,1257.20 L640.48,1257.14 L641.67,1257.08 L642.87,1257.02 L644.07,1256.96 L645.27,1256.90 L646.47,1256.84 L647.67,1256.78 L648.87,1256.71 L650.06,1256.65 L651.26,1256.59 L652.46,1256.52 L653.66,1256.46 L654.86,1256.39 L656.05,1256.33 L657.25,1256.26 L658.45,1256.20 L659.65,1256.13 L660.85,1256.06 L662.05,1255.99 L663.24,1255.93 L664.44,1255.86 L665.64,1255.79 L666.84,1255.72 L668.04,1255.65 L669.23,1255.58 L670.43,1255.50 L671.63,1255.43 L672.83,1255.36 L674.03,1255.29 L675.22,1255.21 L676.42,1255.14 L677.62,1255.06 L678.82,1254.99 L680.01,1254.91 L681.21,1254.84 L682.41,1254.76 L683.61,1254.68 L684.80,1254.60 L686.00,1254.52 L687.20,1254.44 L688.40,1254.36 L689.59,1254.28 L690.79,1254.20 L691.99,1254.12 L693.18,1254.04 L694.38,1253.95 L695.58,1253.87 L696.78,1253.78 L697.97,1253.70 L699.17,1253.61 L700.37,1253.52 L701.56,1253.44 L702.76,1253.35 L703.96,1253.26 L705.15,1253.17 L706.35,1253.08 L707.55,1252.99 L708.74,1252.89 L709.94,1252.80 L711.14,1252.71 L712.33,1252.61 L713.53,1252.52 L714.72,1252.42 L715.92,1252.32 L717.12,1252.23 L718.31,1252.13 L719.51,1252.03 L720.70,1251.93 L721.90,1251.83 L723.10,1251.72 L724.29,1251.62 L725.49,1251.52 L726.68,1251.41 L727.88,1251.30 L729.07,1251.20 L730.27,1251.09 L731.46,1250.98 L732.66,1250.87 L733.85,1250.76 L735.05,1250.65 L736.24,1250.54 L737.44,1250.42 L738.63,1250.31 L739.83,1250.19 L741.02,1250.07 L742.21,1249.95 L743.41,1249.84 L744.60,1249.71 L745.80,1249.59 L746.99,1249.47 L748.18,1249.35 L749.38,1249.22 L750.57,1249.09 L751.76,1248.97 L752.96,1248.84 L754.15,1248.71 L755.34,1248.58 L756.54,1248.44 L757.73,1248.31 L758.92,1248.17 L760.11,1248.04 L761.31,1247.90 L762.50,1247.76 L763.69,1247.62 L764.88,1247.48 L766.07,1247.33 L767.26,1247.19 L768.45,1247.04 L769.65,1246.89 L770.84,1246.74 L772.03,1246.59 L773.22,1246.44 L774.41,1246.28 L775.60,1246.13 L776.79,1245.97 L777.98,1245.81 L779.17,1245.65 L780.35,1245.49 L781.54,1245.32 L782.73,1245.15 L783.92,1244.99 L785.11,1244.82 L786.30,1244.64 L787.48,1244.47 L788.67,1244.29 L789.86,1244.12 L791.04,1243.94 L792.23,1243.75 L793.42,1243.57 L794.60,1243.38 L795.79,1243.20 L796.97,1243.01 L798.16,1242.81 L799.34,1242.62 L800.52,1242.42 L801.71,1242.22 L802.89,1242.02 L804.07,1241.82 L805.26,1241.61 L806.44,1241.40 L807.62,1241.19 L808.80,1240.98 L809.98,1240.76 L811.16,1240.54 L812.34,1240.32 L813.52,1240.09 L814.70,1239.87 L815.88,1239.64 L817.05,1239.40 L818.23,1239.17 L819.41,1238.93 L820.58,1238.69 L821.76,1238.44 L822.93,1238.20 L824.11,1237.95 L825.28,1237.69 L826.45,1237.43 L827.62,1237.17 L828.79,1236.91 L829.97,1236.64 L831.13,1236.37 L832.30,1236.10 L833.47,1235.82 L834.64,1235.54 L835.80,1235.25 L836.97,1234.96 L838.13,1234.67 L839.30,1234.37 L840.46,1234.07 L841.62,1233.76 L842.78,1233.45 L843.94,1233.14 L845.10,1232.82 L846.25,1232.50 L847.41,1232.17 L848.56,1231.84 L849.71,1231.51 L850.87,1231.17 L852.02,1230.82 L853.16,1230.47 L854.31,1230.12 L855.46,1229.76 L856.60,1229.39 L857.74,1229.02 L858.88,1228.64 L860.02,1228.26 L861.16,1227.88 L862.30,1227.48 L863.43,1227.09 L864.56,1226.68 L865.69,1226.27 L866.82,1225.86 L867.94,1225.44 L869.06,1225.01 L870.18,1224.58 L871.30,1224.14 L872.42,1223.69 L873.53,1223.24 L874.64,1222.78 L875.75,1222.31 L876.85,1221.84 L877.95,1221.36 L879.05,1220.87 L880.15,1220.38 L881.24,1219.88 L882.33,1219.37 L883.42,1218.85 L884.50,1218.33 L885.58,1217.80 L886.65,1217.26 L887.72,1216.71 L888.79,1216.16 L889.85,1215.60 L890.91,1215.03 L891.96,1214.45 L893.01,1213.86 L894.06,1213.27 L895.10,1212.66 L896.14,1212.05 L897.17,1211.43 L898.19,1210.80 L899.21,1210.17 L900.23,1209.52 L901.24,1208.87 L902.24,1208.20 L903.24,1207.53 L904.23,1206.85 L905.22,1206.16 L906.20,1205.46 L907.17,1204.75 L908.14,1204.04 L909.10,1203.31 L910.06,1202.58 L911.00,1201.83 L911.94,1201.08 L912.88,1200.32 L913.80,1199.55 L914.72,1198.77 L915.64,1197.98 L916.54,1197.19 L917.44,1196.38 L918.33,1195.57 L919.21,1194.75 L920.08,1193.91 L920.95,1193.08 L921.80,1192.23 L922.65,1191.37 L923.49,1190.51 L924.33,1189.64 L925.15,1188.76 L925.97,1187.87 L926.78,1186.97 L927.57,1186.07 L928.37,1185.16 L929.15,1184.24 L929.92,1183.31 L930.69,1182.38 L931.44,1181.44 L932.19,1180.49 L932.93,1179.54 L933.66,1178.58 L934.39,1177.61 L935.10,1176.64 L935.81,1175.66 L936.50,1174.67 L937.19,1173.68 L937.87,1172.69 L938.55,1171.68 L939.21,1170.68 L939.87,1169.66 L940.52,1168.64 L941.16,1167.62 L941.79,1166.59 L942.41,1165.56 L943.03,1164.52 L943.64,1163.47 L944.24,1162.43 L944.83,1161.37 L945.41,1160.32 L945.99,1159.26 L946.56,1158.19 L947.13,1157.12 L947.68,1156.05 L948.23,1154.98 L948.77,1153.90 L949.31,1152.81 L949.84,1151.73 L950.36,1150.64 L950.87,1149.55 L951.38,1148.45 L951.88,1147.35 L952.38,1146.25 L952.87,1145.15 L953.35,1144.04 L953.82,1142.93 L954.30,1141.82 L954.76,1140.70 L955.22,1139.59 L955.67,1138.47 L956.12,1137.34 L956.56,1136.22 L957.00,1135.10 L957.43,1133.97 L957.86,1132.84 L958.28,1131.71 L958.69,1130.57 L959.10,1129.44 L959.51,1128.30 L959.91,1127.16 L960.31,1126.02 L960.70,1124.88 L961.08,1123.74 L961.47,1122.59 L961.84,1121.44 L962.22,1120.30 L962.59,1119.15 L962.95,1118.00 L963.31,1116.84 L963.67,1115.69 L964.02,1114.54 L964.37,1113.38 L964.71,1112.23 L965.05,1111.07 L965.39,1109.91 L965.72,1108.75 L966.05,1107.59 L966.38,1106.43 L966.70,1105.26 L967.02,1104.10 L967.33,1102.94 L967.65,1101.77 L967.95,1100.60 L968.26,1099.44 L968.56,1098.27 L968.86,1097.10 L969.16,1095.93 L969.45,1094.76 L969.74,1093.59 L970.03,1092.42 L970.31,1091.25 L970.59,1090.08 L970.87,1088.90 L971.15,1087.73 L971.42,1086.55 L971.69,1085.38 L971.96,1084.20 L972.23,1083.03 L972.49,1081.85 L972.75,1080.67 L973.01,1079.50 L973.26,1078.32 L973.52,1077.14 L973.77,1075.96 L974.02,1074.78 L974.26,1073.60 L974.51,1072.42 L974.75,1071.24 L974.99,1070.06 L975.23,1068.88 L975.46,1067.69 L975.69,1066.51 L975.93,1065.33 L976.16,1064.15 L976.38,1062.96 L976.61,1061.78 L976.83,1060.59 L977.05,1059.41 L977.27,1058.22 L977.49,1057.04 L977.71,1055.85 L977.92,1054.67 L978.14,1053.48 L978.35,1052.30 L978.56,1051.11 L978.77,1049.92 L978.97,1048.74 L979.18,1047.55 L979.38,1046.36 L979.58,1045.17 L979.78,1043.99 L979.98,1042.80 L980.18,1041.61 L980.37,1040.42 L980.57,1039.23 L980.76,1038.04 L980.95,1036.86 L981.14,1035.67 L981.33,1034.48 L981.52,1033.29 L981.70,1032.10 L981.89,1030.91 L982.07,1029.72 L982.25,1028.53 L982.43,1027.34 L982.61,1026.15 L982.79,1024.96 L982.97,1023.77 L983.15,1022.57 L983.32,1021.38 L983.50,1020.19 L983.67,1019.00 L983.84,1017.81 L984.01,1016.62 L984.18,1015.43 L984.35,1014.23 L984.52,1013.04 L984.68,1011.85 L984.85,1010.66 L985.01,1009.47 L985.18,1008.27 L985.34,1007.08 L985.50,1005.89 L985.66,1004.70 L985.82,1003.50 L985.98,1002.31 L986.14,1001.12 L986.29,999.92 L986.45,998.73 L986.61,997.54 L986.76,996.34 L986.91,995.15 L987.07,993.96 L987.22,992.76 L987.37,991.57 L987.52,990.38 L987.67,989.18 L987.82,987.99 L987.97,986.80 L988.12,985.60 L988.26,984.41 L988.41,983.21 L988.55,982.02 L988.70,980.83 L988.84,979.63 L988.99,978.44 L989.13,977.24 L989.27,976.05 L989.41,974.86 L989.55,973.66 L989.69,972.47 L989.83,971.27 L989.97,970.08 L990.11,968.88 L990.25,967.69 L990.39,966.49 L990.52,965.30 L990.66,964.11 L990.80,962.91 L990.93,961.72 L991.07,960.52 L991.20,959.33 L991.34,958.13 L991.47,956.94 L991.60,955.74 L991.73,954.55 L991.87,953.35 L992.00,952.16 L992.13,950.96 L992.26,949.77 L992.39,948.57 L992.52,947.38 L992.65,946.19 L992.78,944.99 L992.91,943.80 L993.04,942.60 L993.16,941.41 L993.29,940.21 L993.42,939.02 L993.55,937.82 L993.67,936.63 L993.80,935.43 L993.93,934.24 L994.05,933.04 L994.18,931.85 L994.30,930.65 L994.43,929.46 L994.55,928.27 L994.68,927.07 L994.80,925.88 L994.93,924.68 L995.05,923.49 L995.18,922.29 L995.30,921.10 L995.42,919.90 L995.55,918.71 L995.67,917.52 L995.79,916.32 L995.92,915.13 L996.04,913.93 L996.16,912.74 L996.29,911.54 L996.41,910.35 L996.53,909.16 L996.65,907.96 L996.78,906.77 L996.90,905.58 L997.02,904.38 L997.14,903.19 L997.27,901.99 L997.39,900.80 L997.51,899.61 L997.63,898.41 L997.76,897.22 L997.88,896.03 L998.00,894.84 L998.13,893.64 L998.25,892.45 L998.37,891.26 L998.50,890.06 L998.62,888.87 L998.75,887.68 L998.87,886.49 L998.99,885.30 L999.12,884.10 L999.25,882.91 L999.37,881.72 L999.50,880.53 L999.62,879.34 L999.75,878.15 L999.88,876.96 L1000.01,875.77 L1000.14,874.57 L1000.26,873.38 L1000.39,872.19 L1000.52,871.00 L1000.66,869.82 L1000.79,868.63 L1000.92,867.44 L1001.05,866.25 L1001.19,865.06 L1001.32,863.87 L1001.46,862.69 L1001.60,861.50 L1001.74,860.31 L1001.88,859.13 L1002.02,857.94 L1002.16,856.76 L1002.31,855.57 L1002.45,854.39 L1002.60,853.20 L1002.75,852.02 L1002.90,850.84 L1003.05,849.66 L1003.21,848.48 L1003.37,847.30 L1003.53,846.12 L1003.70,844.95 L1003.87,843.77 L1004.04,842.60 L1004.22,841.43 L1004.40,840.26 L1004.58,839.09 L1004.78,837.93 L1004.98,836.77 L1005.18,835.61 L1005.40,834.46 L1005.63,833.32 L1005.87,832.18 L1006.13,831.06 L1006.41,829.95 L1006.71,828.86 L1007.06,827.81 L1007.47,826.82 L1008.00,825.99 L1008.81,825.71 L1009.91,827.43 L1010.32,828.74 L1010.64,830.01 L1010.91,831.26 L1011.15,832.50 L1011.37,833.73 L1011.56,834.96 L1011.75,836.19 L1011.92,837.41 L1012.08,838.63 L1012.24,839.85 L1012.39,841.06 L1012.53,842.28 L1012.67,843.49 L1012.80,844.71 L1012.93,845.92 L1013.05,847.13 L1013.17,848.34 L1013.29,849.55 L1013.41,850.76 L1013.52,851.97 L1013.63,853.18 L1013.73,854.39 L1013.84,855.59 L1013.94,856.80 L1014.04,858.01 L1014.14,859.22 L1014.23,860.42 L1014.33,861.63 L1014.42,862.83 L1014.51,864.04 L1014.61,865.25 L1014.69,866.45 L1014.78,867.66 L1014.87,868.86 L1014.96,870.07 L1015.04,871.27 L1015.12,872.47 L1015.21,873.68 L1015.29,874.88 L1015.37,876.09 L1015.45,877.29 L1015.53,878.51 L1015.61,879.74 L1015.69,880.99 L1015.77,882.25 L1015.85,883.52 L1015.93,884.80 L1016.01,886.09 L1016.09,887.40 L1016.17,888.71 L1016.25,890.04 L1016.33,891.38 L1016.41,892.74 L1016.49,894.10 L1016.57,895.48 L1016.65,896.86 L1016.73,898.26 L1016.81,899.67 L1016.89,901.09 L1016.97,902.52 L1017.05,903.96 L1017.13,905.41 L1017.21,906.87 L1017.29,908.34 L1017.37,909.82 L1017.45,911.31 L1017.53,912.81 L1017.61,914.32 L1017.69,915.83 L1017.77,917.36 L1017.85,918.90 L1017.93,920.44 L1018.01,921.99 L1018.09,923.55 L1018.17,925.12 L1018.25,926.70 L1018.33,928.29 L1018.41,929.88 L1018.49,931.48 L1018.57,933.09 L1018.65,934.70 L1018.73,936.32 L1018.81,937.95 L1018.89,939.59 L1018.97,941.23 L1019.05,942.88 L1019.13,944.53 L1019.21,946.19 L1019.29,947.86 L1019.37,949.53 L1019.45,951.21 L1019.53,952.89 L1019.61,954.58 L1019.69,956.27 L1019.77,957.97 L1019.85,959.67 L1019.93,961.38 L1020.01,963.09 L1020.09,964.81 L1020.17,966.53 L1020.25,968.25 L1020.33,969.97 L1020.41,971.70 L1020.49,973.44 L1020.57,975.17 L1020.65,976.91 L1020.73,978.65 L1020.81,980.40 L1020.89,982.14 L1020.97,983.89 L1021.05,985.64 L1021.13,987.40 L1021.21,989.15 L1021.29,990.91 L1021.37,992.66 L1021.45,994.42 L1021.53,996.18 L1021.61,997.94 L1021.69,999.70 L1021.77,1001.47 L1021.85,1003.23 L1021.93,1004.99 L1022.01,1006.75 L1022.09,1008.52 L1022.17,1010.28 L1022.25,1012.04 L1022.33,1013.80 L1022.41,1015.56 L1022.49,1017.32 L1022.57,1019.08 L1022.65,1020.84 L1022.73,1022.60 L1022.81,1024.36 L1022.89,1026.11 L1022.97,1027.86 L1023.05,1029.62 L1023.13,1031.36 L1023.21,1033.11 L1023.29,1034.86 L1023.37,1036.60 L1023.45,1038.34 L1023.53,1040.08 L1023.61,1041.82 L1023.69,1043.55 L1023.77,1045.28 L1023.85,1047.01 L1023.93,1048.73 L1024.01,1050.45 L1024.09,1052.17 L1024.17,1053.88 L1024.25,1055.59 L1024.33,1057.30 L1024.41,1059.00 L1024.49,1060.70 L1024.57,1062.40 L1024.65,1064.09 L1024.73,1065.78 L1024.81,1067.46 L1024.89,1069.14 L1024.97,1070.81 L1025.05,1072.48 L1025.13,1074.15 L1025.21,1075.81 L1025.29,1077.46 L1025.37,1079.11 L1025.45,1080.76 L1025.53,1082.40 L1025.61,1084.04 L1025.69,1085.67 L1025.77,1087.29 L1025.85,1088.91 L1025.93,1090.53 L1026.01,1092.13 L1026.09,1093.74 L1026.17,1095.34 L1026.25,1096.93 L1026.33,1098.51 L1026.41,1100.09 L1026.49,1101.67 L1026.57,1103.24 L1026.65,1104.80 L1026.73,1106.36 L1026.81,1107.91 L1026.89,1109.45 L1026.97,1110.99 L1027.05,1112.52 L1027.13,1114.05 L1027.21,1115.57 L1027.29,1117.08 L1027.37,1118.59 L1027.45,1120.09 L1027.53,1121.58 L1027.61,1123.07 L1027.69,1124.55 L1027.77,1126.03 L1027.85,1127.49 L1027.93,1128.95 L1028.01,1130.41 L1028.09,1131.86 L1028.17,1133.30 L1028.25,1134.73 L1028.33,1136.16 L1028.41,1137.58 L1028.49,1138.99 L1028.57,1140.40 L1028.65,1141.80 L1028.73,1143.19 L1028.81,1144.57 L1028.89,1145.95 L1028.97,1147.32 L1029.05,1148.69 L1029.13,1150.05 L1029.21,1151.40 L1029.29,1152.74 L1029.37,1154.08 L1029.45,1155.41 L1029.53,1156.73 L1029.61,1158.04 L1029.69,1159.35 L1029.77,1160.65 L1029.85,1161.95 L1029.93,1163.23 L1030.01,1164.51 L1030.09,1165.79 L1030.17,1167.05 L1030.25,1168.31 L1030.33,1169.56 L1030.41,1170.81 L1030.49,1172.04 L1030.57,1173.27 L1030.65,1174.50 L1030.73,1175.71 L1030.81,1176.92 L1030.89,1178.12 L1030.97,1179.32 L1031.05,1180.51 L1031.13,1181.71 L1031.21,1182.90 L1031.29,1184.09 L1031.38,1185.29 L1031.46,1186.48 L1031.54,1187.67 L1031.63,1188.87 L1031.71,1190.06 L1031.79,1191.25 L1031.88,1192.45 L1031.97,1193.64 L1032.05,1194.83 L1032.14,1196.02 L1032.23,1197.22 L1032.32,1198.41 L1032.41,1199.60 L1032.50,1200.79 L1032.59,1201.99 L1032.68,1203.18 L1032.77,1204.37 L1032.86,1205.56 L1032.95,1206.75 L1033.05,1207.95 L1033.14,1209.14 L1033.24,1210.33 L1033.33,1211.52 L1033.43,1212.71 L1033.53,1213.90 L1033.63,1215.09 L1033.73,1216.29 L1033.83,1217.48 L1033.93,1218.67 L1034.03,1219.86 L1034.13,1221.05 L1034.23,1222.24 L1034.34,1223.43 L1034.44,1224.62 L1034.55,1225.81 L1034.66,1227.00 L1034.77,1228.19 L1034.87,1229.38 L1034.98,1230.57 L1035.10,1231.76 L1035.21,1232.94 L1035.32,1234.13 L1035.44,1235.32 L1035.55,1236.51 L1035.67,1237.70 L1035.79,1238.89 L1035.91,1240.07 L1036.03,1241.26 L1036.15,1242.45 L1036.27,1243.64 L1036.40,1244.82 L1036.52,1246.01 L1036.65,1247.19 L1036.78,1248.38 L1036.91,1249.57 L1037.04,1250.75 L1037.18,1251.94 L1037.31,1253.12 L1037.45,1254.31 L1037.59,1255.49 L1037.73,1256.68 L1037.87,1257.86 L1038.01,1259.04 L1038.16,1260.23 L1038.31,1261.41 L1038.46,1262.59 L1038.61,1263.77 L1038.76,1264.95 L1038.92,1266.13 L1039.08,1267.32 L1039.24,1268.50 L1039.40,1269.67 L1039.57,1270.85 L1039.74,1272.03 L1039.91,1273.21 L1040.08,1274.39 L1040.26,1275.56 L1040.44,1276.74 L1040.62,1277.92 L1040.81,1279.09 L1041.00,1280.27 L1041.19,1281.44 L1041.39,1282.61 L1041.59,1283.78 L1041.79,1284.95 L1042.00,1286.12 L1042.21,1287.29 L1042.43,1288.46 L1042.65,1289.63 L1042.88,1290.79 L1043.11,1291.96 L1043.35,1293.12 L1043.59,1294.28 L1043.83,1295.44 L1044.09,1296.60 L1044.35,1297.75 L1044.61,1298.91 L1044.89,1300.06 L1045.17,1301.21 L1045.45,1302.36 L1045.75,1303.50 L1046.05,1304.65 L1046.37,1305.79 L1046.69,1306.92 L1047.02,1308.06 L1047.37,1309.19 L1047.72,1310.31 L1048.09,1311.43 L1048.47,1312.55 L1048.86,1313.66 L1049.27,1314.76 L1049.70,1315.86 L1050.14,1316.95 L1050.60,1318.03 L1051.08,1319.10 L1051.58,1320.16 L1052.11,1321.21 L1052.66,1322.25 L1053.23,1323.27 L1053.84,1324.27 L1054.47,1325.25 L1055.14,1326.21 L1055.85,1327.14 L1056.59,1328.04 L1057.38,1328.91 L1058.20,1329.73 L1059.07,1330.51 L1059.99,1331.24 L1060.95,1331.92 L1061.95,1332.53 L1063.00,1333.08 L1064.08,1333.55 L1065.19,1333.96 L1066.33,1334.29 L1067.49,1334.56 L1068.67,1334.76 L1069.86,1334.89 L1071.05,1334.97 L1072.25,1335.00 L1073.45,1334.98 L1074.65,1334.92 L1075.85,1334.82 L1077.04,1334.69 L1078.24,1334.53 L1079.42,1334.35 L1080.61,1334.14 L1081.79,1333.91 L1082.96,1333.67 L1084.14,1333.41 L1085.31,1333.14 L1086.48,1332.86 L1087.64,1332.56 L1088.80,1332.26 L1089.96,1331.95 L1091.12,1331.64 L1092.28,1331.32 L1093.43,1330.99 L1094.59,1330.66 L1095.74,1330.33 L1096.90,1329.99 L1098.05,1329.66 L1099.20,1329.32 L1100.35,1328.98 L1101.50,1328.64 L1102.65,1328.30 L1103.80,1327.96 L1104.95,1327.62 L1106.11,1327.28 L1107.26,1326.95 L1108.41,1326.61 L1109.56,1326.27 L1110.71,1325.94 L1111.86,1325.61 L1113.02,1325.28 L1114.17,1324.95 L1115.33,1324.62 L1116.48,1324.29 L1117.64,1323.97 L1118.79,1323.65 L1119.95,1323.33 L1121.11,1323.02 L1122.27,1322.71 L1123.42,1322.40 L1124.58,1322.09 L1125.74,1321.78 L1126.90,1321.48 L1128.07,1321.18 L1129.23,1320.88 L1130.39,1320.59 L1131.55,1320.30 L1132.72,1320.01 L1133.88,1319.72 L1135.05,1319.44 L1136.22,1319.16 L1137.38,1318.88 L1138.55,1318.60 L1139.72,1318.33 L1140.89,1318.06 L1142.06,1317.80 L1143.23,1317.53 L1144.40,1317.27 L1145.57,1317.01 L1146.74,1316.75 L1147.91,1316.50 L1149.09,1316.25 L1150.26,1316.00 L1151.44,1315.76 L1152.61,1315.51 L1153.79,1315.27 L1154.96,1315.03 L1156.14,1314.80 L1157.32,1314.56 L1158.49,1314.33 L1159.67,1314.11 L1160.85,1313.88 L1162.03,1313.66 L1163.21,1313.44 L1164.39,1313.22 L1165.57,1313.00 L1166.75,1312.79 L1167.93,1312.57 L1169.11,1312.36 L1170.29,1312.16 L1171.47,1311.95 L1172.66,1311.75 L1173.84,1311.55 L1175.02,1311.35 L1176.21,1311.15 L1177.39,1310.96 L1178.57,1310.76 L1179.76,1310.57 L1180.94,1310.38 L1182.13,1310.20 L1183.31,1310.01 L1184.50,1309.83 L1185.69,1309.65 L1186.87,1309.47 L1188.06,1309.29 L1189.25,1309.12 L1190.43,1308.94 L1191.62,1308.77 L1192.81,1308.60 L1194.00,1308.43 L1195.18,1308.26 L1196.37,1308.10 L1197.56,1307.93 L1198.75,1307.77 L1199.94,1307.61 L1201.13,1307.45 L1202.32,1307.30 L1203.51,1307.14 L1204.70,1306.99 L1205.89,1306.83 L1207.08,1306.68 L1208.27,1306.53 L1209.46,1306.39 L1210.65,1306.24 L1211.84,1306.09 L1213.03,1305.95 L1214.22,1305.81 L1215.42,1305.67 L1216.61,1305.53 L1217.80,1305.39 L1218.99,1305.25 L1220.18,1305.11 L1221.38,1304.98 L1222.57,1304.85 L1223.76,1304.71 L1224.95,1304.58 L1226.15,1304.45 L1227.34,1304.33 L1228.53,1304.20 L1229.73,1304.07 L1230.92,1303.95 L1232.11,1303.82 L1233.31,1303.70 L1234.50,1303.58 L1235.69,1303.46 L1236.89,1303.34 L1238.08,1303.22 L1239.28,1303.11 L1240.47,1302.99 L1241.67,1302.87 L1242.86,1302.76 L1244.06,1302.65 L1245.25,1302.54 L1246.44,1302.42 L1247.64,1302.31 L1248.83,1302.21 L1250.03,1302.10 L1251.22,1301.99 L1252.42,1301.88 L1253.62,1301.78 L1254.81,1301.67 L1256.01,1301.57 L1257.20,1301.47 L1258.40,1301.37 L1259.59,1301.27 L1260.79,1301.17 L1261.98,1301.07 L1263.18,1300.97 L1264.38,1300.87 L1265.57,1300.77 L1266.77,1300.68 L1267.97,1300.58 L1269.16,1300.49 L1270.36,1300.39 L1271.55,1300.30 L1272.75,1300.21 L1273.95,1300.12 L1275.14,1300.03 L1276.34,1299.94 L1277.54,1299.85 L1278.73,1299.76 L1279.93,1299.67 L1281.13,1299.59 L1282.32,1299.50 L1283.52,1299.41 L1284.72,1299.33 L1285.91,1299.25 L1287.11,1299.16 L1288.31,1299.08 L1289.00,1299.03" stroke="#ff0000" stroke-width="9.5" stroke-dasharray="9.5 16.07" stroke-dashoffset="-0.65"/>
</g>
<rect x="454.85" y="824.35" width="177.5" height="304.45" fill="#e4e4e4" stroke="#404040" stroke-width="3" stroke-linejoin="round"/>
<path d="M542.30,978.00 L542.30,978.00 L542.27,978.00 L542.22,978.00 L542.12,978.01 L541.98,978.03 L541.79,978.06 L541.55,978.10 L541.24,978.17 L540.87,978.26 L540.43,978.37 L539.93,978.52 L539.35,978.71 L538.70,978.94 L537.97,979.22 L537.18,979.55 L536.31,979.95 L535.37,980.40 L534.37,980.93 L533.29,981.52 L532.16,982.20 L530.96,982.96 L529.71,983.81 L528.40,984.74 L527.05,985.77 L525.65,986.90 L524.22,988.13 L522.75,989.46 L521.26,990.89 L519.76,992.43 L518.24,994.08 L516.71,995.83 L515.19,997.69 L513.68,999.66 L512.19,1001.74 L510.72,1003.92 L509.28,1006.20 L507.88,1008.59 L506.53,1011.07 L505.23,1013.64 L503.99,1016.31 L502.82,1019.06 L501.73,1021.89 L500.72,1024.79 L499.80,1027.76 L498.97,1030.80 L498.24,1033.89 L497.62,1037.02 L497.11,1040.20 L496.71,1043.41 L496.43,1046.64 L496.28,1049.89 L496.25,1053.15 L496.35,1056.40 L496.58,1059.64 L496.94,1062.86 L497.44,1066.05 L498.07,1069.20 L498.83,1072.30 L499.72,1075.34 L500.75,1078.32 L501.90,1081.21 L503.19,1084.02 L504.59,1086.74 L506.12,1089.35 L507.76,1091.85 L509.52,1094.23 L511.38,1096.48 L513.35,1098.60 L515.41,1100.57 L517.56,1102.40 L519.79,1104.07 L522.09,1105.58 L524.47,1106.93 L526.90,1108.10 L529.39,1109.10 L531.92,1109.93 L534.48,1110.57 L537.07,1111.03 L539.68,1111.31 L542.30,1111.40 L544.92,1111.31 L547.53,1111.03 L550.12,1110.57 L552.68,1109.93 L555.21,1109.10 L557.70,1108.10 L560.13,1106.93 L562.51,1105.58 L564.81,1104.07 L567.04,1102.40 L569.19,1100.57 L571.25,1098.60 L573.22,1096.48 L575.08,1094.23 L576.84,1091.85 L578.48,1089.35 L580.01,1086.74 L581.41,1084.02 L582.70,1081.21 L583.85,1078.32 L584.88,1075.34 L585.77,1072.30 L586.53,1069.20 L587.16,1066.05 L587.66,1062.86 L588.02,1059.64 L588.25,1056.40 L588.35,1053.15 L588.32,1049.89 L588.17,1046.64 L587.89,1043.41 L587.49,1040.20 L586.98,1037.02 L586.36,1033.89 L585.63,1030.80 L584.80,1027.76 L583.88,1024.79 L582.87,1021.89 L581.78,1019.06 L580.61,1016.31 L579.37,1013.64 L578.07,1011.07 L576.72,1008.59 L575.32,1006.20 L573.88,1003.92 L572.41,1001.74 L570.92,999.66 L569.41,997.69 L567.89,995.83 L566.36,994.08 L564.84,992.43 L563.34,990.89 L561.85,989.46 L560.38,988.13 L558.95,986.90 L557.55,985.77 L556.20,984.74 L554.89,983.81 L553.64,982.96 L552.44,982.20 L551.31,981.52 L550.23,980.93 L549.23,980.40 L548.29,979.95 L547.42,979.55 L546.63,979.22 L545.90,978.94 L545.25,978.71 L544.67,978.52 L544.17,978.37 L543.73,978.26 L543.36,978.17 L543.05,978.10 L542.81,978.06 L542.62,978.03 L542.48,978.01 L542.38,978.00 L542.33,978.00 L542.30,978.00 L542.30,978.00Z" fill="url(#gb)"/>
<ellipse cx="542.2" cy="976.4" rx="46.3" ry="25" fill="url(#gt)"/>
<path d="M542.30,975.50 L542.30,975.50 L542.28,975.50 L542.25,975.50 L542.19,975.49 L542.09,975.48 L541.95,975.46 L541.77,975.43 L541.53,975.38 L541.24,975.31 L540.89,975.22 L540.47,975.10 L539.98,974.94 L539.43,974.75 L538.80,974.51 L538.10,974.23 L537.33,973.88 L536.48,973.48 L535.56,973.01 L534.57,972.47 L533.51,971.86 L532.38,971.16 L531.19,970.38 L529.93,969.50 L528.62,968.53 L527.26,967.46 L525.84,966.28 L524.39,965.00 L522.90,963.61 L521.38,962.11 L519.83,960.49 L518.27,958.75 L516.70,956.90 L515.13,954.93 L513.57,952.85 L512.02,950.65 L510.49,948.33 L508.99,945.90 L507.53,943.36 L506.12,940.71 L504.76,937.96 L503.47,935.11 L502.24,932.17 L501.10,929.14 L500.04,926.02 L499.08,922.83 L498.21,919.57 L497.45,916.26 L496.81,912.89 L496.28,909.47 L495.88,906.02 L495.60,902.55 L495.45,899.06 L495.45,895.56 L495.58,892.07 L495.85,888.59 L496.26,885.14 L496.81,881.72 L497.52,878.35 L498.36,875.04 L499.35,871.80 L500.47,868.64 L501.74,865.56 L503.15,862.59 L504.68,859.72 L506.35,856.98 L508.14,854.36 L510.04,851.88 L512.06,849.55 L514.19,847.37 L516.41,845.36 L518.73,843.51 L521.13,841.84 L523.61,840.35 L526.15,839.05 L528.75,837.95 L531.40,837.03 L534.09,836.32 L536.81,835.81 L539.55,835.50 L542.30,835.40 L545.05,835.50 L547.79,835.81 L550.51,836.32 L553.20,837.03 L555.85,837.95 L558.45,839.05 L560.99,840.35 L563.47,841.84 L565.87,843.51 L568.19,845.36 L570.41,847.37 L572.54,849.55 L574.56,851.88 L576.46,854.36 L578.25,856.98 L579.92,859.72 L581.45,862.59 L582.86,865.56 L584.13,868.64 L585.25,871.80 L586.24,875.04 L587.08,878.35 L587.79,881.72 L588.34,885.14 L588.75,888.59 L589.02,892.07 L589.15,895.56 L589.15,899.06 L589.00,902.55 L588.72,906.02 L588.32,909.47 L587.79,912.89 L587.15,916.26 L586.39,919.57 L585.52,922.83 L584.56,926.02 L583.50,929.14 L582.36,932.17 L581.13,935.11 L579.84,937.96 L578.48,940.71 L577.07,943.36 L575.61,945.90 L574.11,948.33 L572.58,950.65 L571.03,952.85 L569.47,954.93 L567.90,956.90 L566.33,958.75 L564.77,960.49 L563.22,962.11 L561.70,963.61 L560.21,965.00 L558.76,966.28 L557.34,967.46 L555.98,968.53 L554.67,969.50 L553.41,970.38 L552.22,971.16 L551.09,971.86 L550.03,972.47 L549.04,973.01 L548.12,973.48 L547.27,973.88 L546.50,974.23 L545.80,974.51 L545.17,974.75 L544.62,974.94 L544.13,975.10 L543.71,975.22 L543.36,975.31 L543.07,975.38 L542.83,975.43 L542.65,975.46 L542.51,975.48 L542.41,975.49 L542.35,975.50 L542.32,975.50 L542.30,975.50 L542.30,975.50Z" fill="url(#gb)"/>
<rect x="1076.9" y="824.35" width="177.4" height="304.45" fill="#e4e4e4" stroke="#404040" stroke-width="3" stroke-linejoin="round"/>
<ellipse cx="1164.2" cy="1046.9" rx="66" ry="70" fill="url(#gr)"/>
<ellipse cx="1164.3" cy="914.3" rx="67.7" ry="72.2" fill="url(#gr)"/>
<g stroke="#000" stroke-width="5.8" fill="none">
<path d="M211,777 V1358.2 M1289,777 V1358.2 M211,800 H1289 M188.5,1336 H1311.6"/>
<path d="M426.6,777 V800 M426.6,1336 V1358.2 M642.2,777 V800 M642.2,1336 V1358.2 M857.8,777 V800 M857.8,1336 V1358.2 M1073.4,777 V800 M1073.4,1336 V1358.2" stroke-width="5.5"/>
<path d="M188.5,875 H211 M188.5,990.2 H211 M188.5,1105.5 H211 M188.5,1220.7 H211" stroke-width="5.5"/>
<path d="M1289,900.6 H1311.6 M1289,1009.4 H1311.6 M1289,1118.2 H1311.6 M1289,1227 H1311.6" stroke-width="5.5"/>
</g>
<text transform="translate(72.25,104.34) scale(0.7761,0.9582)" font-size="58" fill="#000000" stroke="#000000" stroke-width="0.9" vector-effect="non-scaling-stroke" ><tspan x="0" y="0">a</tspan><tspan x="44.45" y="-2.32" textLength="18.30" lengthAdjust="spacingAndGlyphs">)</tspan></text>
<text transform="translate(136.30,168.46) scale(1.0267,1.0097)" font-size="44" fill="#000000" stroke="#000000" stroke-width="0" vector-effect="non-scaling-stroke">60</text>
<text transform="translate(137.64,394.87) scale(0.9985,1.0032)" font-size="44" fill="#000000" stroke="#000000" stroke-width="0" vector-effect="non-scaling-stroke">30</text>
<text transform="translate(160.31,619.76) scale(1.0714,1.0226)" font-size="44" fill="#000000" stroke="#000000" stroke-width="0" vector-effect="non-scaling-stroke">0</text>
<text transform="translate(102.40,0) rotate(-90) scale(0.9379,1.0022)" font-size="44" fill="#000000" stroke="#000000" stroke-width="0" vector-effect="non-scaling-stroke" xml:space="preserve"><tspan x="-521.85" y="0" textLength="139.60" lengthAdjust="spacingAndGlyphs">Energy</tspan> <tspan x="-369.94" y="5.91" font-size="57.87" rotate="6.7" stroke="none">/</tspan> <tspan x="-338.06" y="0" textLength="53.65" lengthAdjust="spacingAndGlyphs">eV</tspan></text>
<text transform="translate(704.76,183.17) scale(0.9194,0.9864)" font-size="60" fill="#000000" stroke="#000000" stroke-width="0.5" vector-effect="non-scaling-stroke">He</text>
<text transform="translate(704.76,433.17) scale(0.9194,0.9864)" font-size="60" fill="#000000" stroke="#000000" stroke-width="0.5" vector-effect="non-scaling-stroke">He</text>
<text transform="translate(704.76,625.17) scale(0.9194,0.9840)" font-size="60" fill="#000000" stroke="#000000" stroke-width="0.5" vector-effect="non-scaling-stroke">He</text>
<text transform="translate(778.43,166.24) scale(1.1617,1.0841)" font-size="42" fill="#000000" stroke="#000000" stroke-width="0" vector-effect="non-scaling-stroke">**</text>
<text transform="translate(775.69,415.91) scale(0.9569,1.0397)" font-size="40" fill="#000000" stroke="#000000" stroke-width="0" vector-effect="non-scaling-stroke">+</text>
<text transform="translate(934.64,182.78) scale(0.9616,0.9614)" font-size="60" fill="#0000ff" stroke="#0000ff" stroke-width="0.5" vector-effect="non-scaling-stroke">2p</text>
<text transform="translate(1000.55,164.40) scale(0.9736,1.0061)" font-size="39" fill="#0000ff" stroke="#0000ff" stroke-width="0" vector-effect="non-scaling-stroke">2</text>
<text transform="translate(1052.70,181.54) scale(0.6900,0.9834)" font-size="60" fill="#0000ff" stroke="#0000ff" stroke-width="0.5" vector-effect="non-scaling-stroke">(</text>
<text transform="translate(1070.67,163.90) scale(0.9780,1.0013)" font-size="39" fill="#0000ff" stroke="#0000ff" stroke-width="0" vector-effect="non-scaling-stroke">1</text>
<text transform="translate(1093.98,182.77) scale(0.8611,0.9768)" font-size="60" fill="#0000ff" stroke="#0000ff" stroke-width="0.5" vector-effect="non-scaling-stroke">D</text>
<text transform="translate(1131.64,164.40) scale(0.9382,0.8859)" font-size="39" fill="#0000ff" stroke="#0000ff" stroke-width="0" vector-effect="non-scaling-stroke">e</text>
<text transform="translate(1156.00,181.54) scale(0.6960,0.9834)" font-size="60" fill="#0000ff" stroke="#0000ff" stroke-width="0.5" vector-effect="non-scaling-stroke">)</text>
<text transform="translate(945.11,624.97) scale(0.8754,0.9816)" font-size="60" fill="#000000" stroke="#000000" stroke-width="0.5" vector-effect="non-scaling-stroke">1s</text>
<text transform="translate(1001.79,606.40) scale(0.9566,1.0061)" font-size="39" fill="#000000" stroke="#000000" stroke-width="0" vector-effect="non-scaling-stroke">2</text>
<text transform="translate(1053.50,623.31) scale(0.7200,0.9781)" font-size="60" fill="#000000" stroke="#000000" stroke-width="0.5" vector-effect="non-scaling-stroke">(</text>
<text transform="translate(1071.96,605.90) scale(0.9480,0.9975)" font-size="39" fill="#000000" stroke="#000000" stroke-width="0" vector-effect="non-scaling-stroke">1</text>
<text transform="translate(1093.38,625.54) scale(0.7371,0.9961)" font-size="60" fill="#000000" stroke="#000000" stroke-width="0.5" vector-effect="non-scaling-stroke">S</text>
<text transform="translate(1122.54,606.50) scale(0.9382,0.9047)" font-size="39" fill="#000000" stroke="#000000" stroke-width="0" vector-effect="non-scaling-stroke">e</text>
<text transform="translate(1147.00,623.31) scale(0.7200,0.9781)" font-size="60" fill="#000000" stroke="#000000" stroke-width="0.5" vector-effect="non-scaling-stroke">)</text>
<text transform="translate(461.55,284.37) scale(0.9774,1.0042)" font-size="44" fill="#000000" stroke="#000000" stroke-width="0" vector-effect="non-scaling-stroke">e</text>
<text transform="translate(483.92,272.80) scale(1.0062,1.0500)" font-size="33" fill="#000000" stroke="#000000" stroke-width="0" vector-effect="non-scaling-stroke">−</text>
<text transform="translate(71.76,743.13) scale(0.9106,0.9679)" font-size="61" fill="#000000" stroke="#000000" stroke-width="0.9" vector-effect="non-scaling-stroke" ><tspan x="0" y="0">b</tspan><tspan x="39.50" y="-1.45" textLength="15.33" lengthAdjust="spacingAndGlyphs">)</tspan></text>
<text transform="translate(181.94,760.36) scale(0.9814,1.0097)" font-size="44" fill="#ff0000" stroke="#ff0000" stroke-width="0" vector-effect="non-scaling-stroke">59.4</text>
<text transform="translate(384.61,760.36) scale(0.9943,1.0097)" font-size="44" fill="#ff0000" stroke="#ff0000" stroke-width="0" vector-effect="non-scaling-stroke">59.6</text>
<text transform="translate(598.12,760.36) scale(0.9882,1.0097)" font-size="44" fill="#ff0000" stroke="#ff0000" stroke-width="0" vector-effect="non-scaling-stroke">59.8</text>
<text transform="translate(827.51,760.36) scale(0.9808,1.0097)" font-size="44" fill="#ff0000" stroke="#ff0000" stroke-width="0" vector-effect="non-scaling-stroke">60.0</text>
<text transform="translate(1040.99,760.36) scale(0.9889,1.0097)" font-size="44" fill="#ff0000" stroke="#ff0000" stroke-width="0" vector-effect="non-scaling-stroke">60.2</text>
<text transform="translate(1248.91,760.36) scale(0.9817,1.0097)" font-size="44" fill="#ff0000" stroke="#ff0000" stroke-width="0" vector-effect="non-scaling-stroke">60.4</text>
<text transform="translate(184.00,1410.66) scale(0.9864,1.0097)" font-size="44" fill="#0000ff" stroke="#0000ff" stroke-width="0" vector-effect="non-scaling-stroke">29.7</text>
<text transform="translate(386.61,1410.66) scale(0.9811,1.0097)" font-size="44" fill="#0000ff" stroke="#0000ff" stroke-width="0" vector-effect="non-scaling-stroke">29.8</text>
<text transform="translate(600.12,1410.66) scale(0.9750,1.0097)" font-size="44" fill="#0000ff" stroke="#0000ff" stroke-width="0" vector-effect="non-scaling-stroke">29.9</text>
<text transform="translate(818.55,1410.66) scale(0.9923,1.0097)" font-size="44" fill="#0000ff" stroke="#0000ff" stroke-width="0" vector-effect="non-scaling-stroke">30.0</text>
<text transform="translate(1042.26,1410.66) scale(0.9845,1.0097)" font-size="44" fill="#0000ff" stroke="#0000ff" stroke-width="0" vector-effect="non-scaling-stroke">30.1</text>
<text transform="translate(1261.78,1410.66) scale(0.9722,1.0097)" font-size="44" fill="#0000ff" stroke="#0000ff" stroke-width="0" vector-effect="non-scaling-stroke">30.2</text>
<text transform="translate(0,1467.80) scale(0.9871,1.0088)" font-size="44" fill="#000000" stroke="#000000" stroke-width="0" vector-effect="non-scaling-stroke" xml:space="preserve"><tspan x="583.24" y="0" textLength="142.57" lengthAdjust="spacingAndGlyphs">Photon</tspan> <tspan x="738.39" y="0" textLength="133.91" lengthAdjust="spacingAndGlyphs">energy</tspan> <tspan x="883.43" y="6.26" font-size="58.05" rotate="6.7" stroke="none">/</tspan> <tspan x="914.34" y="0" textLength="51.40" lengthAdjust="spacingAndGlyphs">eV</tspan></text>
<text transform="translate(102.90,1174.83) rotate(-90) scale(1.0160,1.0022)" font-size="44" fill="#000000" stroke="#000000" stroke-width="0" vector-effect="non-scaling-stroke">Probability</text>
<text transform="translate(160.90,0) rotate(-90) scale(1.0168,0.9923)" font-size="44" fill="#0000ff" stroke="#0000ff" stroke-width="0" vector-effect="non-scaling-stroke" xml:space="preserve"><tspan x="-1249.90" y="0" textLength="176.90" lengthAdjust="spacingAndGlyphs">2-Photon</tspan> <tspan x="-1062.06" y="0" textLength="207.15" lengthAdjust="spacingAndGlyphs">absoprtion</tspan></text>
<text transform="translate(1357.60,0) rotate(-90) scale(1.0131,0.9824)" font-size="44" fill="#ff0000" stroke="#ff0000" stroke-width="0" vector-effect="non-scaling-stroke" xml:space="preserve"><tspan x="-1251.98" y="0" textLength="176.13" lengthAdjust="spacingAndGlyphs">1-Photon</tspan> <tspan x="-1064.17" y="0" textLength="207.91" lengthAdjust="spacingAndGlyphs">absoprtion</tspan></text>
</svg>
</body></html>
